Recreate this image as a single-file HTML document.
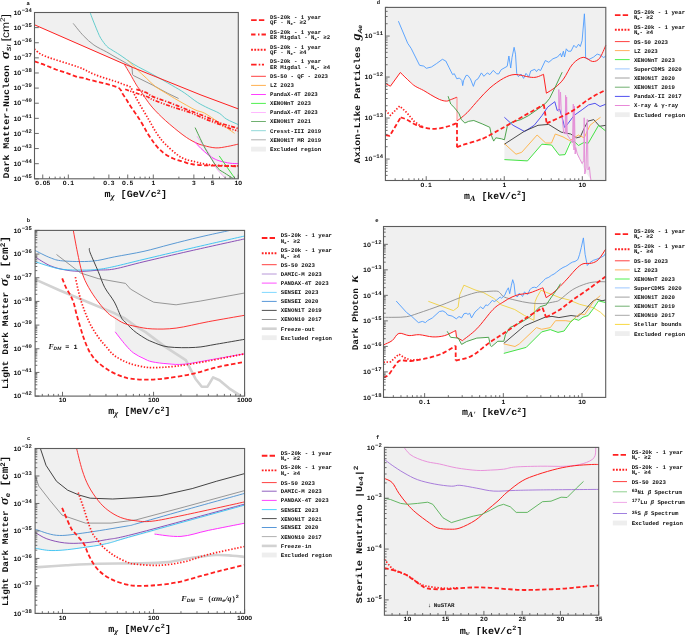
<!DOCTYPE html>
<html><head><meta charset="utf-8"><style>
html,body{margin:0;padding:0;background:#fff;}
svg{display:block;will-change:transform;}
text{font-family:"Liberation Mono";fill:#111;text-rendering:geometricPrecision;}
</style></head><body>
<svg width="685" height="635" viewBox="0 0 685 635">
<rect width="685" height="635" fill="#fff"/>
<polygon points="34.5,12.5 238.3,12.5 238.3,178.8 225.4,178.8 225.4,178.3 225.1,178.0 224.6,177.5 224.1,177.0 223.6,176.4 223.0,175.7 222.3,175.1 221.7,174.4 221.1,173.7 220.5,173.1 220.0,172.5 219.5,172.0 219.1,171.5 218.7,171.1 218.3,170.6 217.9,170.2 217.5,169.7 217.1,169.2 216.7,168.7 216.3,168.0 215.9,167.3 215.5,166.5 215.0,165.5 214.6,164.5 214.1,163.4 213.7,162.3 213.2,161.1 212.7,159.9 212.2,158.8 211.7,157.7 211.1,156.6 210.5,155.6 209.8,154.5 209.1,153.5 208.4,155.0 207.7,154.5 207.0,153.9 206.3,153.3 205.5,152.6 204.8,151.9 204.0,151.3 203.2,150.6 202.4,149.9 201.7,149.2 201.0,148.5 200.3,147.8 199.6,147.1 198.8,146.3 198.1,145.5 197.3,144.7 196.7,143.9 196.0,143.2 195.5,142.6 195.0,142.1 194.6,142.2 193.6,141.7 192.5,141.1 191.5,140.6 190.4,140.0 189.3,139.3 188.2,138.6 187.0,137.8 185.7,137.0 184.4,136.0 183.0,135.0 181.5,133.8 179.8,132.5 178.0,131.1 176.2,129.6 174.3,128.1 172.4,126.5 170.5,124.9 168.7,123.4 167.0,121.9 165.4,120.5 163.9,119.2 162.5,117.8 161.1,116.5 159.8,115.2 158.5,113.9 157.3,112.7 156.1,111.5 154.9,110.2 153.8,109.1 152.8,107.9 151.8,106.8 150.9,105.6 150.0,104.5 149.2,103.5 148.4,102.4 147.7,101.4 147.0,100.4 146.3,99.4 145.6,98.5 145.0,97.6 144.4,96.8 143.9,96.0 143.4,95.2 142.9,94.5 142.5,93.8 142.1,93.2 141.6,92.5 141.2,91.9 140.8,91.2 140.4,90.6 140.0,90.0 139.6,89.4 139.2,88.9 138.8,88.4 138.5,87.9 138.1,87.4 137.7,86.9 137.2,86.3 136.8,85.6 136.3,84.8 135.8,83.9 135.2,82.9 134.6,81.9 133.9,80.7 133.3,79.6 132.6,78.4 132.0,77.2 131.3,76.1 130.7,75.0 130.1,73.9 129.5,72.9 128.8,71.8 128.2,70.6 127.5,69.5 126.9,68.5 126.2,67.4 125.7,66.5 125.2,65.7 124.7,65.0 124.4,64.4 34.5,24.8" fill="#f0f0f0"/>
<text x="28.2" y="5.0" font-size="5.5" text-anchor="middle" font-weight="bold" font-family="Liberation Mono" >a</text>
<path d="M90.10,12.50 C90.50,13.58 91.68,16.88 92.50,19.00 C93.32,21.12 94.08,22.95 95.00,25.20 C95.92,27.45 97.02,30.28 98.00,32.50 C98.98,34.72 99.45,36.22 100.90,38.50 C102.35,40.78 104.85,44.28 106.70,46.20 C108.55,48.12 109.78,48.53 112.00,50.00 C114.22,51.47 116.35,52.60 120.00,55.00 C123.65,57.40 128.43,61.15 133.90,64.40 C139.37,67.65 146.50,71.03 152.80,74.50 C159.10,77.97 166.45,82.15 171.70,85.20 C176.95,88.25 180.03,89.95 184.30,92.80 C188.57,95.65 193.32,99.75 197.30,102.30 C201.28,104.85 204.55,106.28 208.20,108.10 C211.85,109.92 216.15,111.37 219.20,113.20 C222.25,115.03 223.32,117.20 226.50,119.10 C229.68,121.00 236.33,123.68 238.30,124.60" fill="none" stroke="#55c8c8" stroke-width="0.9" stroke-linecap="butt" stroke-linejoin="round"/>
<path d="M73.20,23.40 C74.90,25.45 79.95,32.10 83.40,35.70 C86.85,39.30 90.02,42.28 93.90,45.00 C97.78,47.72 103.18,50.02 106.70,52.00 C110.22,53.98 112.08,55.23 115.00,56.90 C117.92,58.57 121.37,60.32 124.20,62.00 C127.03,63.68 130.70,66.17 132.00,67.00" fill="none" stroke="#8a8a8a" stroke-width="0.9" stroke-linecap="butt" stroke-linejoin="round"/>
<polyline points="132.0,67.0 132.5,74.5 133.9,75.8 152.8,85.2 167.9,93.4 178.6,98.5" fill="none" stroke="#8a8a8a" stroke-width="0.9" stroke-linecap="butt" stroke-linejoin="round"/>
<path d="M127.60,60.00 C129.07,61.48 133.25,65.85 136.40,68.90 C139.55,71.95 143.35,75.37 146.50,78.30 C149.65,81.23 152.15,84.08 155.30,86.50 C158.45,88.92 161.62,90.48 165.40,92.80 C169.18,95.12 173.07,97.57 178.00,100.40 C182.93,103.23 190.57,107.67 195.00,109.80 C199.43,111.93 200.57,111.05 204.60,113.20 C208.63,115.35 214.22,119.35 219.20,122.70 C224.18,126.05 231.95,131.53 234.50,133.30" fill="none" stroke="#ffb040" stroke-width="0.9" stroke-linecap="butt" stroke-linejoin="round"/>
<polyline points="34.5,24.8 115.0,60.0 123.0,63.5 201.0,95.0 238.3,108.9" fill="none" stroke="#ff2020" stroke-width="1.0" stroke-linecap="butt" stroke-linejoin="round"/>
<path d="M124.40,64.40 C125.35,65.98 128.12,70.50 130.10,73.90 C132.08,77.30 134.58,82.02 136.30,84.80 C138.02,87.58 138.95,88.47 140.40,90.60 C141.85,92.73 142.93,94.72 145.00,97.60 C147.07,100.48 149.40,104.08 152.80,107.90 C156.20,111.72 160.37,115.98 165.40,120.50 C170.43,125.02 178.13,131.38 183.00,135.00 C187.87,138.62 191.17,140.45 194.60,142.20 C198.03,143.95 200.05,144.55 203.60,145.50 C207.15,146.45 211.95,147.73 215.90,147.90 C219.85,148.07 223.57,147.13 227.30,146.50 C231.03,145.87 236.47,144.50 238.30,144.10" fill="none" stroke="#ff2020" stroke-width="0.9" stroke-linecap="butt" stroke-linejoin="round"/>
<path d="M194.60,141.70 C195.67,142.83 198.70,146.28 201.00,148.50 C203.30,150.72 206.23,153.32 208.40,155.00 C210.57,156.68 212.08,157.60 214.00,158.60 C215.92,159.60 217.23,160.23 219.90,161.00 C222.57,161.77 226.93,162.77 230.00,163.20 C233.07,163.63 236.92,163.53 238.30,163.60" fill="none" stroke="#ff30ff" stroke-width="1.0" stroke-linecap="butt" stroke-linejoin="round"/>
<path d="M197.10,136.40 C198.25,138.08 201.67,143.13 204.00,146.50 C206.33,149.87 209.12,153.13 211.10,156.60 C213.08,160.07 214.42,164.65 215.90,167.30 C217.38,169.95 218.42,170.67 220.00,172.50 C221.58,174.33 224.50,177.33 225.40,178.30" fill="none" stroke="#f0a0f0" stroke-width="0.9" stroke-linecap="butt" stroke-linejoin="round"/>
<path d="M195.10,127.60 C196.52,130.58 201.08,140.62 203.60,145.50 C206.12,150.38 207.83,153.12 210.20,156.90 C212.57,160.68 215.43,165.53 217.80,168.20 C220.17,170.87 221.88,171.22 224.40,172.90 C226.92,174.58 231.48,177.40 232.90,178.30" fill="none" stroke="#3c9a3c" stroke-width="0.9" stroke-linecap="butt" stroke-linejoin="round"/>
<polyline points="219.2,155.9 234.8,178.3" fill="none" stroke="#30e030" stroke-width="0.9" stroke-linecap="butt" stroke-linejoin="round"/>
<path d="M136.30,89.40 C136.98,89.55 139.23,89.93 140.40,90.30 C141.57,90.67 142.13,91.12 143.30,91.60 C144.47,92.08 145.82,92.37 147.40,93.20 C148.98,94.03 148.75,94.88 152.80,96.60 C156.85,98.32 165.50,101.15 171.70,103.50 C177.90,105.85 184.52,108.58 190.00,110.70 C195.48,112.82 199.73,114.20 204.60,116.20 C209.47,118.20 214.33,120.88 219.20,122.70 C224.07,124.52 230.62,126.12 233.80,127.10 C236.98,128.08 237.55,128.35 238.30,128.60" fill="none" stroke="#ff2020" stroke-width="1.7" stroke-dasharray="4,1.6,1.3,1.6" stroke-linecap="butt" stroke-linejoin="round"/>
<path d="M125.20,89.40 C125.78,89.60 126.67,89.92 128.70,90.60 C130.73,91.28 135.07,92.72 137.40,93.50 C139.73,94.28 140.93,94.72 142.70,95.30 C144.47,95.88 146.32,96.27 148.00,97.00 C149.68,97.73 148.85,98.08 152.80,99.70 C156.75,101.32 165.50,104.57 171.70,106.70 C177.90,108.83 185.37,110.87 190.00,112.50 C194.63,114.13 196.33,115.17 199.50,116.50 C202.67,117.83 205.72,119.22 209.00,120.50 C212.28,121.78 215.68,122.85 219.20,124.20 C222.72,125.55 226.92,127.45 230.10,128.60 C233.28,129.75 236.93,130.68 238.30,131.10" fill="none" stroke="#ff2020" stroke-width="1.7" stroke-dasharray="4,1.5,1.2,1.5,1.2,1.5" stroke-linecap="butt" stroke-linejoin="round"/>
<path d="M34.50,49.30 C36.32,50.47 38.12,53.35 45.40,56.30 C52.68,59.25 70.10,64.00 78.20,67.00 C86.30,70.00 88.50,72.12 94.00,74.30 C99.50,76.48 107.27,78.80 111.20,80.10 C115.13,81.40 115.52,81.37 117.60,82.10 C119.68,82.83 121.70,83.77 123.70,84.50 C125.70,85.23 128.28,85.78 129.60,86.50 C130.92,87.22 130.78,87.43 131.60,88.80 C132.42,90.17 133.23,92.27 134.50,94.70 C135.77,97.13 136.98,99.52 139.20,103.40 C141.42,107.28 144.90,113.05 147.80,118.00 C150.70,122.95 153.65,128.72 156.60,133.10 C159.55,137.48 161.38,140.25 165.50,144.30 C169.62,148.35 176.33,154.48 181.30,157.40 C186.27,160.32 191.35,160.70 195.30,161.80 C199.25,162.90 201.72,163.43 205.00,164.00 C208.28,164.57 209.45,164.87 215.00,165.20 C220.55,165.53 234.42,165.87 238.30,166.00" fill="none" stroke="#ff2020" stroke-width="1.7" stroke-dasharray="1.4,1.7" stroke-linecap="butt" stroke-linejoin="round"/>
<polyline points="34.5,61.3 42.8,64.2 55.9,69.5 69.0,73.8 77.8,77.3 83.9,77.8 88.3,79.5 110.0,84.8 118.8,87.7" fill="none" stroke="#ff2020" stroke-width="1.8" stroke-dasharray="4.4,2.4" stroke-linecap="butt" stroke-linejoin="round"/>
<path d="M118.80,87.70 C119.18,88.18 120.43,89.53 121.10,90.60 C121.77,91.67 121.92,92.63 122.80,94.10 C123.68,95.57 125.22,97.55 126.40,99.40 C127.58,101.25 127.60,101.68 129.90,105.20 C132.20,108.72 137.22,115.75 140.20,120.50 C143.18,125.25 145.33,129.73 147.80,133.70 C150.27,137.67 152.47,141.17 155.00,144.30 C157.53,147.43 160.07,150.17 163.00,152.50 C165.93,154.83 169.27,156.78 172.60,158.30 C175.93,159.82 179.50,160.57 183.00,161.60 C186.50,162.63 188.33,163.82 193.60,164.50 C198.87,165.18 207.15,165.40 214.60,165.70 C222.05,166.00 234.35,166.20 238.30,166.30" fill="none" stroke="#ff2020" stroke-width="1.8" stroke-dasharray="4.4,2.4" stroke-linecap="butt" stroke-linejoin="round"/>
<rect x="34.50" y="12.50" width="203.80" height="166.30" fill="none" stroke="#5c5c5c" stroke-width="1.1"/>
<line x1="34.50" y1="12.50" x2="38.80" y2="12.50" stroke="#5c5c5c" stroke-width="0.9"/>
<text x="31.8" y="14.7" font-size="6.6" text-anchor="end" font-family="Liberation Mono" font-weight="bold">1O<tspan font-size="5.6" dy="-3" dx="0.4">&#8722;34</tspan></text>
<line x1="34.50" y1="27.62" x2="38.80" y2="27.62" stroke="#5c5c5c" stroke-width="0.9"/>
<text x="31.8" y="29.8" font-size="6.6" text-anchor="end" font-family="Liberation Mono" font-weight="bold">1O<tspan font-size="5.6" dy="-3" dx="0.4">&#8722;35</tspan></text>
<line x1="34.50" y1="42.74" x2="38.80" y2="42.74" stroke="#5c5c5c" stroke-width="0.9"/>
<text x="31.8" y="44.9" font-size="6.6" text-anchor="end" font-family="Liberation Mono" font-weight="bold">1O<tspan font-size="5.6" dy="-3" dx="0.4">&#8722;36</tspan></text>
<line x1="34.50" y1="57.85" x2="38.80" y2="57.85" stroke="#5c5c5c" stroke-width="0.9"/>
<text x="31.8" y="60.1" font-size="6.6" text-anchor="end" font-family="Liberation Mono" font-weight="bold">1O<tspan font-size="5.6" dy="-3" dx="0.4">&#8722;37</tspan></text>
<line x1="34.50" y1="72.97" x2="38.80" y2="72.97" stroke="#5c5c5c" stroke-width="0.9"/>
<text x="31.8" y="75.2" font-size="6.6" text-anchor="end" font-family="Liberation Mono" font-weight="bold">1O<tspan font-size="5.6" dy="-3" dx="0.4">&#8722;38</tspan></text>
<line x1="34.50" y1="88.09" x2="38.80" y2="88.09" stroke="#5c5c5c" stroke-width="0.9"/>
<text x="31.8" y="90.3" font-size="6.6" text-anchor="end" font-family="Liberation Mono" font-weight="bold">1O<tspan font-size="5.6" dy="-3" dx="0.4">&#8722;39</tspan></text>
<line x1="34.50" y1="103.21" x2="38.80" y2="103.21" stroke="#5c5c5c" stroke-width="0.9"/>
<text x="31.8" y="105.4" font-size="6.6" text-anchor="end" font-family="Liberation Mono" font-weight="bold">1O<tspan font-size="5.6" dy="-3" dx="0.4">&#8722;40</tspan></text>
<line x1="34.50" y1="118.33" x2="38.80" y2="118.33" stroke="#5c5c5c" stroke-width="0.9"/>
<text x="31.8" y="120.5" font-size="6.6" text-anchor="end" font-family="Liberation Mono" font-weight="bold">1O<tspan font-size="5.6" dy="-3" dx="0.4">&#8722;41</tspan></text>
<line x1="34.50" y1="133.45" x2="38.80" y2="133.45" stroke="#5c5c5c" stroke-width="0.9"/>
<text x="31.8" y="135.6" font-size="6.6" text-anchor="end" font-family="Liberation Mono" font-weight="bold">1O<tspan font-size="5.6" dy="-3" dx="0.4">&#8722;42</tspan></text>
<line x1="34.50" y1="148.56" x2="38.80" y2="148.56" stroke="#5c5c5c" stroke-width="0.9"/>
<text x="31.8" y="150.8" font-size="6.6" text-anchor="end" font-family="Liberation Mono" font-weight="bold">1O<tspan font-size="5.6" dy="-3" dx="0.4">&#8722;43</tspan></text>
<line x1="34.50" y1="163.68" x2="38.80" y2="163.68" stroke="#5c5c5c" stroke-width="0.9"/>
<text x="31.8" y="165.9" font-size="6.6" text-anchor="end" font-family="Liberation Mono" font-weight="bold">1O<tspan font-size="5.6" dy="-3" dx="0.4">&#8722;44</tspan></text>
<line x1="34.50" y1="178.80" x2="38.80" y2="178.80" stroke="#5c5c5c" stroke-width="0.9"/>
<text x="31.8" y="181.0" font-size="6.6" text-anchor="end" font-family="Liberation Mono" font-weight="bold">1O<tspan font-size="5.6" dy="-3" dx="0.4">&#8722;45</tspan></text>
<line x1="42.74" y1="178.80" x2="42.74" y2="174.50" stroke="#5c5c5c" stroke-width="0.9"/>
<line x1="68.32" y1="178.80" x2="68.32" y2="174.50" stroke="#5c5c5c" stroke-width="0.9"/>
<line x1="108.87" y1="178.80" x2="108.87" y2="174.50" stroke="#5c5c5c" stroke-width="0.9"/>
<line x1="127.73" y1="178.80" x2="127.73" y2="174.50" stroke="#5c5c5c" stroke-width="0.9"/>
<line x1="153.31" y1="178.80" x2="153.31" y2="174.50" stroke="#5c5c5c" stroke-width="0.9"/>
<line x1="193.86" y1="178.80" x2="193.86" y2="174.50" stroke="#5c5c5c" stroke-width="0.9"/>
<line x1="212.72" y1="178.80" x2="212.72" y2="174.50" stroke="#5c5c5c" stroke-width="0.9"/>
<line x1="238.30" y1="178.80" x2="238.30" y2="174.50" stroke="#5c5c5c" stroke-width="0.9"/>
<line x1="49.47" y1="178.80" x2="49.47" y2="176.60" stroke="#5c5c5c" stroke-width="0.9"/>
<line x1="55.16" y1="178.80" x2="55.16" y2="176.60" stroke="#5c5c5c" stroke-width="0.9"/>
<line x1="60.08" y1="178.80" x2="60.08" y2="176.60" stroke="#5c5c5c" stroke-width="0.9"/>
<line x1="64.43" y1="178.80" x2="64.43" y2="176.60" stroke="#5c5c5c" stroke-width="0.9"/>
<line x1="93.91" y1="178.80" x2="93.91" y2="176.60" stroke="#5c5c5c" stroke-width="0.9"/>
<line x1="119.49" y1="178.80" x2="119.49" y2="176.60" stroke="#5c5c5c" stroke-width="0.9"/>
<line x1="134.46" y1="178.80" x2="134.46" y2="176.60" stroke="#5c5c5c" stroke-width="0.9"/>
<line x1="140.15" y1="178.80" x2="140.15" y2="176.60" stroke="#5c5c5c" stroke-width="0.9"/>
<line x1="145.07" y1="178.80" x2="145.07" y2="176.60" stroke="#5c5c5c" stroke-width="0.9"/>
<line x1="149.42" y1="178.80" x2="149.42" y2="176.60" stroke="#5c5c5c" stroke-width="0.9"/>
<line x1="178.89" y1="178.80" x2="178.89" y2="176.60" stroke="#5c5c5c" stroke-width="0.9"/>
<line x1="204.48" y1="178.80" x2="204.48" y2="176.60" stroke="#5c5c5c" stroke-width="0.9"/>
<line x1="219.45" y1="178.80" x2="219.45" y2="176.60" stroke="#5c5c5c" stroke-width="0.9"/>
<line x1="225.13" y1="178.80" x2="225.13" y2="176.60" stroke="#5c5c5c" stroke-width="0.9"/>
<line x1="230.06" y1="178.80" x2="230.06" y2="176.60" stroke="#5c5c5c" stroke-width="0.9"/>
<line x1="234.41" y1="178.80" x2="234.41" y2="176.60" stroke="#5c5c5c" stroke-width="0.9"/>
<text x="42.7" y="184.9" font-size="6.3" text-anchor="middle" font-family="Liberation Mono" font-weight="bold">O.O5</text>
<text x="68.3" y="184.9" font-size="6.3" text-anchor="middle" font-family="Liberation Mono" font-weight="bold">O.1</text>
<text x="108.9" y="184.9" font-size="6.3" text-anchor="middle" font-family="Liberation Mono" font-weight="bold">O.3</text>
<text x="127.7" y="184.9" font-size="6.3" text-anchor="middle" font-family="Liberation Mono" font-weight="bold">O.5</text>
<text x="153.3" y="184.9" font-size="6.3" text-anchor="middle" font-family="Liberation Mono" font-weight="bold">1</text>
<text x="193.9" y="184.9" font-size="6.3" text-anchor="middle" font-family="Liberation Mono" font-weight="bold">3</text>
<text x="212.7" y="184.9" font-size="6.3" text-anchor="middle" font-family="Liberation Mono" font-weight="bold">5</text>
<text x="238.3" y="184.9" font-size="6.3" text-anchor="middle" font-family="Liberation Mono" font-weight="bold">1O</text>
<polygon points="385.4,7.4 605.8,7.4 605.8,180.5 591.0,180.5 584.2,169.6 580.3,160.0 574.6,149.4 569.0,141.5 565.0,154.6 559.2,155.1 551.5,145.0 541.9,144.2 527.5,160.9 504.4,159.6 504.4,139.8 501.5,138.8 495.8,137.8 491.0,139.8 490.0,127.3 482.2,123.9 473.8,120.5 468.7,121.3 464.9,123.0 461.9,120.5 460.0,117.0 457.2,121.3 457.2,110.0 456.8,110.3 450.9,104.4 450.0,101.0 448.4,101.0 443.3,100.5 433.1,96.8 423.0,90.0 416.2,86.4 411.1,82.2 406.0,76.3 400.1,72.4 390.4,85.6 385.4,83.1" fill="#f0f0f0"/>
<text x="378.5" y="4.4" font-size="5.5" text-anchor="middle" font-weight="bold" font-family="Liberation Mono" >d</text>
<polyline points="398.4,21.2 407.7,43.3 411.1,48.3 419.6,65.3 423.8,66.1 426.3,68.3 431.4,67.0 436.5,63.6 442.4,59.3 445.8,61.0 449.2,67.8 452.6,74.6 454.3,73.7 456.8,78.8 459.4,78.0 461.9,80.5 462.7,85.6 463.6,80.5 466.1,75.4 467.8,75.4 470.4,78.8 473.4,86.4 475.4,80.5 478.0,78.8 481.4,72.9 483.9,76.3 487.3,72.9 489.8,74.6 493.2,70.4 496.6,73.7 498.6,74.0 501.2,69.7 507.2,66.3 508.9,56.0 510.7,68.0 512.0,57.7 514.1,47.3 515.5,54.2 516.7,73.2 518.4,76.6 521.0,74.0 523.6,78.4 526.0,73.4 528.9,76.9 530.7,71.0 534.8,69.3 536.5,71.6 538.3,69.3 540.6,70.5 545.3,60.5 548.8,62.3 552.9,58.8 557.5,57.0 560.5,53.5 561.6,57.0 563.4,51.2 564.5,57.0 566.3,48.8 568.0,51.2 571.0,51.2 573.9,45.3 576.2,47.7 578.6,44.2 580.3,46.5 582.1,40.7 583.0,30.0 584.4,13.8 585.2,30.0 585.6,58.2 589.1,59.4 593.7,57.0 597.2,54.1 600.7,55.3 603.7,57.6 605.8,55.9" fill="none" stroke="#4d9cff" stroke-width="0.9" stroke-linecap="butt" stroke-linejoin="round"/>
<polyline points="385.4,83.4 390.4,86.2 400.3,72.5" fill="none" stroke="#ff2020" stroke-width="1.0" stroke-linecap="butt" stroke-linejoin="round"/>
<path d="M400.30,72.50 C401.95,74.08 407.72,79.72 410.20,82.00 C412.68,84.28 412.95,84.78 415.20,86.20 C417.45,87.62 421.10,89.07 423.70,90.50 C426.30,91.93 428.20,93.32 430.80,94.80 C433.40,96.28 436.70,98.35 439.30,99.40 C441.90,100.45 444.38,101.10 446.40,101.10 C448.42,101.10 449.63,100.05 451.40,99.40 C453.17,98.75 456.07,97.57 457.00,97.20" fill="none" stroke="#ff2020" stroke-width="1.0" stroke-linecap="butt" stroke-linejoin="round"/>
<polyline points="457.0,97.2 457.0,121.0" fill="none" stroke="#ff8080" stroke-width="0.9" stroke-linecap="butt" stroke-linejoin="round"/>
<path d="M457.00,121.00 C458.07,120.17 461.45,117.67 463.40,116.00 C465.35,114.33 466.13,113.75 468.70,111.00 C471.27,108.25 475.25,103.35 478.80,99.50 C482.35,95.65 485.88,91.43 490.00,87.90 C494.12,84.37 499.33,80.53 503.50,78.30 C507.67,76.07 510.67,74.70 515.00,74.50 C519.33,74.30 525.92,76.67 529.50,77.10 C533.08,77.53 534.17,77.57 536.50,77.10 C538.83,76.63 542.33,74.77 543.50,74.30" fill="none" stroke="#ff2020" stroke-width="1.0" stroke-linecap="butt" stroke-linejoin="round"/>
<polyline points="543.5,74.3 546.4,93.2" fill="none" stroke="#ff2020" stroke-width="1.0" stroke-linecap="butt" stroke-linejoin="round"/>
<path d="M546.40,93.20 C547.87,92.23 552.37,89.73 555.20,87.40 C558.03,85.07 560.48,83.10 563.40,79.20 C566.32,75.30 569.40,67.65 572.70,64.00 C576.00,60.35 579.88,57.72 583.20,57.30 C586.52,56.88 589.87,61.35 592.60,61.50 C595.33,61.65 597.40,60.90 599.60,58.20 C601.80,55.50 604.77,47.45 605.80,45.30" fill="none" stroke="#ff2020" stroke-width="1.0" stroke-linecap="butt" stroke-linejoin="round"/>
<polyline points="448.1,96.2 450.7,104.0 454.9,108.2 459.2,113.9 461.3,119.6 464.9,123.0 468.7,121.3 473.8,120.5 482.2,123.9 489.8,127.3 491.5,135.7 493.7,141.1 495.8,137.8 501.5,138.8 504.4,139.8 507.3,126.3 511.1,122.5 520.8,119.6 528.4,115.7 538.0,109.0 545.7,103.2 549.6,98.4 555.3,86.9 562.2,72.2" fill="none" stroke="#3c9a3c" stroke-width="0.9" stroke-linecap="butt" stroke-linejoin="round"/>
<polyline points="504.4,117.3 513.1,125.3 524.6,131.5 534.2,125.3 541.9,115.7 547.7,107.1 554.8,101.7 557.2,110.5 559.6,108.9 562.9,120.2 564.5,127.4 566.9,125.0 574.1,115.4 582.2,109.7 588.6,104.9 595.0,103.3 600.0,106.5 605.8,104.2" fill="none" stroke="#4040ee" stroke-width="0.9" stroke-linecap="butt" stroke-linejoin="round"/>
<polyline points="504.4,144.2 524.6,131.1 538.0,125.3 548.6,124.4 561.1,132.1 570.7,134.0 576.5,137.8 580.3,136.9 584.2,128.2 588.0,121.1 593.8,119.6 599.6,126.3 605.8,125.3" fill="none" stroke="#3a3a3a" stroke-width="0.9" stroke-linecap="butt" stroke-linejoin="round"/>
<polyline points="504.4,143.6 516.0,154.2 521.7,152.3 537.1,135.0 545.7,143.0 551.5,143.0 555.3,134.0 563.0,136.9 569.8,140.7 578.4,135.0 584.2,137.8 590.0,125.3 594.7,121.5 600.5,117.3" fill="none" stroke="#ffb040" stroke-width="0.9" stroke-linecap="butt" stroke-linejoin="round"/>
<polyline points="504.4,159.6 527.5,160.9 541.9,144.2 551.5,145.0 559.2,155.1 565.0,154.6 570.7,141.7 574.6,141.7 578.4,145.5 584.2,142.3 588.0,143.6 598.6,125.3 605.8,131.1" fill="none" stroke="#30e030" stroke-width="0.9" stroke-linecap="butt" stroke-linejoin="round"/>
<polyline points="558.8,112.0 558.8,89.6 559.6,108.9 560.5,92.0 561.3,112.2 562.1,117.0 563.7,133.0 565.2,134.0 565.6,95.3 566.1,134.0 566.6,97.0 567.2,134.7 569.3,137.9 572.5,142.7 573.3,104.1 574.0,150.0 574.4,106.0 575.2,154.0 575.7,147.5 577.3,154.0 579.7,158.8 582.2,163.6 583.8,160.4 584.2,117.8 584.8,174.0 586.0,168.0 587.3,119.4 588.0,170.0 589.4,166.8 590.3,176.0 591.0,180.5" fill="none" stroke="#e590d8" stroke-width="1.0" stroke-linecap="butt" stroke-linejoin="round"/>
<polyline points="385.4,110.4 390.4,115.3 399.6,106.1 406.7,112.5 413.8,121.0 419.5,125.2 424.0,127.2" fill="none" stroke="#ff2020" stroke-width="1.7" stroke-dasharray="1.4,1.7" stroke-linecap="butt" stroke-linejoin="round"/>
<polyline points="385.4,135.2 389.7,135.9 400.7,117.4" fill="none" stroke="#ff2020" stroke-width="1.8" stroke-dasharray="4.4,2.4" stroke-linecap="butt" stroke-linejoin="round"/>
<path d="M400.70,117.40 C401.70,117.77 404.28,118.42 406.70,119.60 C409.12,120.78 412.37,123.20 415.20,124.50 C418.03,125.80 420.87,126.68 423.70,127.40 C426.53,128.12 429.37,128.68 432.20,128.80 C435.03,128.92 437.87,128.57 440.70,128.10 C443.53,127.63 446.48,126.83 449.20,126.00 C451.92,125.17 455.70,123.58 457.00,123.10" fill="none" stroke="#ff2020" stroke-width="1.8" stroke-dasharray="4.4,2.4" stroke-linecap="butt" stroke-linejoin="round"/>
<polyline points="457.0,123.1 457.0,147.2" fill="none" stroke="#ff2020" stroke-width="1.8" stroke-dasharray="4.4,2.4" stroke-linecap="butt" stroke-linejoin="round"/>
<path d="M457.00,147.20 C458.38,146.70 461.67,145.40 465.30,144.20 C468.93,143.00 474.68,141.53 478.80,140.00 C482.92,138.47 479.17,140.90 490.00,135.00 C500.83,129.10 534.83,109.67 543.80,104.60" fill="none" stroke="#ff2020" stroke-width="1.8" stroke-dasharray="4.4,2.4" stroke-linecap="butt" stroke-linejoin="round"/>
<polyline points="543.8,104.6 546.7,123.4" fill="none" stroke="#ff2020" stroke-width="1.8" stroke-dasharray="4.4,2.4" stroke-linecap="butt" stroke-linejoin="round"/>
<path d="M546.70,123.40 C550.70,121.48 563.48,116.07 570.70,111.90 C577.92,107.73 584.15,102.08 590.00,98.40 C595.85,94.72 603.17,91.23 605.80,89.80" fill="none" stroke="#ff2020" stroke-width="1.8" stroke-dasharray="4.4,2.4" stroke-linecap="butt" stroke-linejoin="round"/>
<rect x="385.40" y="7.40" width="220.40" height="173.10" fill="none" stroke="#5c5c5c" stroke-width="1.1"/>
<line x1="385.40" y1="36.06" x2="389.70" y2="36.06" stroke="#5c5c5c" stroke-width="0.9"/>
<text x="383.0" y="38.3" font-size="6.6" text-anchor="end" font-family="Liberation Mono" font-weight="bold">1O<tspan font-size="5.6" dy="-3" dx="0.4">&#8722;11</tspan></text>
<line x1="385.40" y1="77.06" x2="389.70" y2="77.06" stroke="#5c5c5c" stroke-width="0.9"/>
<text x="383.0" y="79.3" font-size="6.6" text-anchor="end" font-family="Liberation Mono" font-weight="bold">1O<tspan font-size="5.6" dy="-3" dx="0.4">&#8722;12</tspan></text>
<line x1="385.40" y1="118.06" x2="389.70" y2="118.06" stroke="#5c5c5c" stroke-width="0.9"/>
<text x="383.0" y="120.3" font-size="6.6" text-anchor="end" font-family="Liberation Mono" font-weight="bold">1O<tspan font-size="5.6" dy="-3" dx="0.4">&#8722;13</tspan></text>
<line x1="385.40" y1="159.06" x2="389.70" y2="159.06" stroke="#5c5c5c" stroke-width="0.9"/>
<text x="383.0" y="161.3" font-size="6.6" text-anchor="end" font-family="Liberation Mono" font-weight="bold">1O<tspan font-size="5.6" dy="-3" dx="0.4">&#8722;14</tspan></text>
<line x1="385.40" y1="180.50" x2="387.60" y2="180.50" stroke="#5c5c5c" stroke-width="0.9"/>
<line x1="385.40" y1="175.38" x2="387.60" y2="175.38" stroke="#5c5c5c" stroke-width="0.9"/>
<line x1="385.40" y1="171.40" x2="387.60" y2="171.40" stroke="#5c5c5c" stroke-width="0.9"/>
<line x1="385.40" y1="168.16" x2="387.60" y2="168.16" stroke="#5c5c5c" stroke-width="0.9"/>
<line x1="385.40" y1="165.41" x2="387.60" y2="165.41" stroke="#5c5c5c" stroke-width="0.9"/>
<line x1="385.40" y1="163.03" x2="387.60" y2="163.03" stroke="#5c5c5c" stroke-width="0.9"/>
<line x1="385.40" y1="160.94" x2="387.60" y2="160.94" stroke="#5c5c5c" stroke-width="0.9"/>
<line x1="385.40" y1="146.72" x2="387.60" y2="146.72" stroke="#5c5c5c" stroke-width="0.9"/>
<line x1="385.40" y1="139.50" x2="387.60" y2="139.50" stroke="#5c5c5c" stroke-width="0.9"/>
<line x1="385.40" y1="134.38" x2="387.60" y2="134.38" stroke="#5c5c5c" stroke-width="0.9"/>
<line x1="385.40" y1="130.40" x2="387.60" y2="130.40" stroke="#5c5c5c" stroke-width="0.9"/>
<line x1="385.40" y1="127.16" x2="387.60" y2="127.16" stroke="#5c5c5c" stroke-width="0.9"/>
<line x1="385.40" y1="124.41" x2="387.60" y2="124.41" stroke="#5c5c5c" stroke-width="0.9"/>
<line x1="385.40" y1="122.03" x2="387.60" y2="122.03" stroke="#5c5c5c" stroke-width="0.9"/>
<line x1="385.40" y1="119.94" x2="387.60" y2="119.94" stroke="#5c5c5c" stroke-width="0.9"/>
<line x1="385.40" y1="105.72" x2="387.60" y2="105.72" stroke="#5c5c5c" stroke-width="0.9"/>
<line x1="385.40" y1="98.50" x2="387.60" y2="98.50" stroke="#5c5c5c" stroke-width="0.9"/>
<line x1="385.40" y1="93.38" x2="387.60" y2="93.38" stroke="#5c5c5c" stroke-width="0.9"/>
<line x1="385.40" y1="89.40" x2="387.60" y2="89.40" stroke="#5c5c5c" stroke-width="0.9"/>
<line x1="385.40" y1="86.16" x2="387.60" y2="86.16" stroke="#5c5c5c" stroke-width="0.9"/>
<line x1="385.40" y1="83.41" x2="387.60" y2="83.41" stroke="#5c5c5c" stroke-width="0.9"/>
<line x1="385.40" y1="81.03" x2="387.60" y2="81.03" stroke="#5c5c5c" stroke-width="0.9"/>
<line x1="385.40" y1="78.94" x2="387.60" y2="78.94" stroke="#5c5c5c" stroke-width="0.9"/>
<line x1="385.40" y1="64.72" x2="387.60" y2="64.72" stroke="#5c5c5c" stroke-width="0.9"/>
<line x1="385.40" y1="57.50" x2="387.60" y2="57.50" stroke="#5c5c5c" stroke-width="0.9"/>
<line x1="385.40" y1="52.37" x2="387.60" y2="52.37" stroke="#5c5c5c" stroke-width="0.9"/>
<line x1="385.40" y1="48.40" x2="387.60" y2="48.40" stroke="#5c5c5c" stroke-width="0.9"/>
<line x1="385.40" y1="45.15" x2="387.60" y2="45.15" stroke="#5c5c5c" stroke-width="0.9"/>
<line x1="385.40" y1="42.41" x2="387.60" y2="42.41" stroke="#5c5c5c" stroke-width="0.9"/>
<line x1="385.40" y1="40.03" x2="387.60" y2="40.03" stroke="#5c5c5c" stroke-width="0.9"/>
<line x1="385.40" y1="37.93" x2="387.60" y2="37.93" stroke="#5c5c5c" stroke-width="0.9"/>
<line x1="385.40" y1="23.72" x2="387.60" y2="23.72" stroke="#5c5c5c" stroke-width="0.9"/>
<line x1="385.40" y1="16.50" x2="387.60" y2="16.50" stroke="#5c5c5c" stroke-width="0.9"/>
<line x1="385.40" y1="11.37" x2="387.60" y2="11.37" stroke="#5c5c5c" stroke-width="0.9"/>
<line x1="385.40" y1="7.40" x2="387.60" y2="7.40" stroke="#5c5c5c" stroke-width="0.9"/>
<line x1="426.21" y1="180.50" x2="426.21" y2="176.20" stroke="#5c5c5c" stroke-width="0.9"/>
<line x1="504.26" y1="180.50" x2="504.26" y2="176.20" stroke="#5c5c5c" stroke-width="0.9"/>
<line x1="582.31" y1="180.50" x2="582.31" y2="176.20" stroke="#5c5c5c" stroke-width="0.9"/>
<line x1="395.15" y1="180.50" x2="395.15" y2="178.30" stroke="#5c5c5c" stroke-width="0.9"/>
<line x1="402.71" y1="180.50" x2="402.71" y2="178.30" stroke="#5c5c5c" stroke-width="0.9"/>
<line x1="408.89" y1="180.50" x2="408.89" y2="178.30" stroke="#5c5c5c" stroke-width="0.9"/>
<line x1="414.12" y1="180.50" x2="414.12" y2="178.30" stroke="#5c5c5c" stroke-width="0.9"/>
<line x1="418.65" y1="180.50" x2="418.65" y2="178.30" stroke="#5c5c5c" stroke-width="0.9"/>
<line x1="422.64" y1="180.50" x2="422.64" y2="178.30" stroke="#5c5c5c" stroke-width="0.9"/>
<line x1="449.70" y1="180.50" x2="449.70" y2="178.30" stroke="#5c5c5c" stroke-width="0.9"/>
<line x1="463.45" y1="180.50" x2="463.45" y2="178.30" stroke="#5c5c5c" stroke-width="0.9"/>
<line x1="473.20" y1="180.50" x2="473.20" y2="178.30" stroke="#5c5c5c" stroke-width="0.9"/>
<line x1="480.76" y1="180.50" x2="480.76" y2="178.30" stroke="#5c5c5c" stroke-width="0.9"/>
<line x1="486.94" y1="180.50" x2="486.94" y2="178.30" stroke="#5c5c5c" stroke-width="0.9"/>
<line x1="492.17" y1="180.50" x2="492.17" y2="178.30" stroke="#5c5c5c" stroke-width="0.9"/>
<line x1="496.69" y1="180.50" x2="496.69" y2="178.30" stroke="#5c5c5c" stroke-width="0.9"/>
<line x1="500.69" y1="180.50" x2="500.69" y2="178.30" stroke="#5c5c5c" stroke-width="0.9"/>
<line x1="527.75" y1="180.50" x2="527.75" y2="178.30" stroke="#5c5c5c" stroke-width="0.9"/>
<line x1="541.50" y1="180.50" x2="541.50" y2="178.30" stroke="#5c5c5c" stroke-width="0.9"/>
<line x1="551.25" y1="180.50" x2="551.25" y2="178.30" stroke="#5c5c5c" stroke-width="0.9"/>
<line x1="558.81" y1="180.50" x2="558.81" y2="178.30" stroke="#5c5c5c" stroke-width="0.9"/>
<line x1="564.99" y1="180.50" x2="564.99" y2="178.30" stroke="#5c5c5c" stroke-width="0.9"/>
<line x1="570.22" y1="180.50" x2="570.22" y2="178.30" stroke="#5c5c5c" stroke-width="0.9"/>
<line x1="574.74" y1="180.50" x2="574.74" y2="178.30" stroke="#5c5c5c" stroke-width="0.9"/>
<line x1="578.73" y1="180.50" x2="578.73" y2="178.30" stroke="#5c5c5c" stroke-width="0.9"/>
<text x="426.2" y="186.6" font-size="6.3" text-anchor="middle" font-family="Liberation Mono" font-weight="bold">O.1</text>
<text x="504.3" y="186.6" font-size="6.3" text-anchor="middle" font-family="Liberation Mono" font-weight="bold">1</text>
<text x="582.3" y="186.6" font-size="6.3" text-anchor="middle" font-family="Liberation Mono" font-weight="bold">1O</text>
<polygon points="35.1,230.4 244.6,230.4 244.6,353.8 208.3,360.2 184.2,364.2 152.1,361.8 136.0,353.8 133.6,353.0 125.5,344.9 115.1,331.8 115.1,320.8 114.3,317.1 107.9,313.1 98.2,301.9 88.6,287.4 82.2,273.0 80.0,270.0 62.9,269.4 50.1,266.5 35.1,261.7" fill="#f0f0f0"/>
<text x="28.5" y="221.6" font-size="5.5" text-anchor="middle" font-weight="bold" font-family="Liberation Mono" >b</text>
<polyline points="35.1,279.4 60.0,290.5 90.0,303.0 114.3,313.1 125.0,318.5 136.0,326.5 145.6,332.1 164.9,346.6 185.8,360.2 195.4,378.7 201.8,386.7 207.5,386.7 213.1,377.4 219.5,380.3 229.1,388.3 238.8,394.7 241.0,396.0" fill="none" stroke="#d2d2d2" stroke-width="2.6" stroke-linecap="butt" stroke-linejoin="round"/>
<path d="M35.10,250.50 C37.60,251.70 45.47,255.97 50.10,257.70 C54.73,259.43 55.95,260.32 62.90,260.90 C69.85,261.48 83.23,261.87 91.80,261.20 C100.37,260.53 105.60,258.55 114.30,256.90 C123.00,255.25 134.72,253.37 144.00,251.30 C153.28,249.23 160.67,246.88 170.00,244.50 C179.33,242.12 190.00,239.35 200.00,237.00 C210.00,234.65 225.00,231.50 230.00,230.40" fill="none" stroke="#4a90d0" stroke-width="0.9" stroke-linecap="butt" stroke-linejoin="round"/>
<path d="M35.10,256.90 C37.60,258.37 44.93,263.50 50.10,265.70 C55.27,267.90 60.75,269.15 66.10,270.10 C71.45,271.05 76.85,271.40 82.20,271.40 C87.55,271.40 92.85,270.50 98.20,270.10 C103.55,269.70 106.67,270.40 114.30,269.00 C121.93,267.60 131.38,264.70 144.00,261.70 C156.62,258.70 173.23,254.80 190.00,251.00 C206.77,247.20 235.50,240.92 244.60,238.90" fill="none" stroke="#8040b0" stroke-width="0.9" stroke-linecap="butt" stroke-linejoin="round"/>
<path d="M35.10,261.70 C37.60,262.50 45.47,265.22 50.10,266.50 C54.73,267.78 57.55,268.80 62.90,269.40 C68.25,270.00 76.32,270.10 82.20,270.10 C88.08,270.10 92.85,270.00 98.20,269.40 C103.55,268.80 106.67,268.18 114.30,266.50 C121.93,264.82 131.38,262.30 144.00,259.30 C156.62,256.30 173.23,252.38 190.00,248.50 C206.77,244.62 235.50,238.08 244.60,236.00" fill="none" stroke="#33c0f0" stroke-width="0.9" stroke-linecap="butt" stroke-linejoin="round"/>
<polyline points="56.5,254.5 80.6,273.0 98.2,278.6 125.5,283.4 130.4,289.0 144.0,297.1 153.7,302.2 176.1,304.8 200.2,301.1 244.6,293.0" fill="none" stroke="#808080" stroke-width="0.8" stroke-linecap="butt" stroke-linejoin="round"/>
<path d="M89.40,248.10 C89.53,248.90 88.73,249.02 90.20,252.90 C91.67,256.78 95.78,265.65 98.20,271.40 C100.62,277.15 102.02,282.32 104.70,287.40 C107.38,292.48 111.50,296.82 114.30,301.90 C117.10,306.98 119.88,314.75 121.50,317.90 C123.12,321.05 121.98,318.70 124.00,320.80 C126.02,322.90 130.27,327.68 133.60,330.50 C136.93,333.32 140.92,335.82 144.00,337.70 C147.08,339.58 148.08,340.27 152.10,341.80 C156.12,343.33 160.88,345.97 168.10,346.90 C175.32,347.83 187.37,347.85 195.40,347.40 C203.43,346.95 208.10,345.55 216.30,344.20 C224.50,342.85 239.88,340.12 244.60,339.30" fill="none" stroke="#303030" stroke-width="0.9" stroke-linecap="butt" stroke-linejoin="round"/>
<path d="M73.30,230.40 C73.98,234.02 75.92,245.00 77.40,252.10 C78.88,259.20 80.33,267.12 82.20,273.00 C84.07,278.88 85.93,282.58 88.60,287.40 C91.27,292.22 94.98,297.62 98.20,301.90 C101.42,306.18 105.22,310.48 107.90,313.10 C110.58,315.72 111.62,315.90 114.30,317.60 C116.98,319.30 120.38,321.82 124.00,323.30 C127.62,324.78 131.32,325.57 136.00,326.50 C140.68,327.43 145.42,328.63 152.10,328.90 C158.78,329.17 166.73,329.30 176.10,328.10 C185.47,326.90 196.88,323.83 208.30,321.70 C219.72,319.57 238.55,316.37 244.60,315.30" fill="none" stroke="#ff2020" stroke-width="0.9" stroke-linecap="butt" stroke-linejoin="round"/>
<path d="M115.10,331.80 C116.83,333.98 122.42,341.37 125.50,344.90 C128.58,348.43 130.52,350.72 133.60,353.00 C136.68,355.28 140.92,357.13 144.00,358.60 C147.08,360.07 148.10,360.93 152.10,361.80 C156.10,362.67 162.65,363.40 168.00,363.80 C173.35,364.20 177.48,364.80 184.20,364.20 C190.92,363.60 198.23,361.93 208.30,360.20 C218.37,358.47 238.55,354.87 244.60,353.80" fill="none" stroke="#ff30ff" stroke-width="1.0" stroke-linecap="butt" stroke-linejoin="round"/>
<path d="M75.40,277.20 C75.85,279.30 77.10,285.68 78.10,289.80 C79.10,293.92 80.12,297.85 81.40,301.90 C82.68,305.95 84.15,310.05 85.80,314.10 C87.45,318.15 89.08,322.17 91.30,326.20 C93.52,330.23 96.65,334.92 99.10,338.30 C101.55,341.68 103.47,343.63 106.00,346.50 C108.53,349.37 110.78,352.83 114.30,355.50 C117.82,358.17 122.82,360.72 127.10,362.50 C131.38,364.28 135.83,365.35 140.00,366.20 C144.17,367.05 146.08,367.60 152.10,367.60 C158.12,367.60 166.73,367.30 176.10,366.20 C185.47,365.10 196.88,363.07 208.30,361.00 C219.72,358.93 238.55,355.00 244.60,353.80" fill="none" stroke="#ff2020" stroke-width="1.7" stroke-dasharray="1.4,1.7" stroke-linecap="butt" stroke-linejoin="round"/>
<path d="M62.20,278.30 C62.83,279.85 64.63,284.77 66.00,287.60 C67.37,290.43 69.12,292.73 70.40,295.30 C71.68,297.87 72.68,299.87 73.70,303.00 C74.72,306.13 75.40,310.05 76.50,314.10 C77.60,318.15 79.02,323.08 80.30,327.30 C81.58,331.52 82.82,335.62 84.20,339.40 C85.58,343.18 87.13,347.07 88.60,350.00 C90.07,352.93 91.40,354.90 93.00,357.00 C94.60,359.10 95.72,360.47 98.20,362.60 C100.68,364.73 104.42,367.67 107.90,369.80 C111.38,371.93 115.35,373.92 119.10,375.40 C122.85,376.88 125.45,377.98 130.40,378.70 C135.35,379.42 142.52,379.82 148.80,379.70 C155.08,379.58 160.87,378.97 168.10,378.00 C175.33,377.03 184.17,375.67 192.20,373.90 C200.23,372.13 207.57,369.42 216.30,367.40 C225.03,365.38 239.88,362.73 244.60,361.80" fill="none" stroke="#ff2020" stroke-width="1.8" stroke-dasharray="4.4,2.4" stroke-linecap="butt" stroke-linejoin="round"/>
<text x="48.5" y="348.6" font-size="6.6" font-weight="bold" font-family="Liberation Mono" textLength="29" lengthAdjust="spacingAndGlyphs"><tspan font-family="Liberation Serif" font-style="italic" font-size="7.5">F</tspan><tspan font-size="4.8" dy="1.4" font-style="italic" font-family="Liberation Sans">DM</tspan><tspan dy="-1.4"> = 1</tspan></text>
<rect x="35.10" y="230.40" width="209.50" height="165.70" fill="none" stroke="#5c5c5c" stroke-width="1.1"/>
<line x1="35.10" y1="230.40" x2="39.40" y2="230.40" stroke="#5c5c5c" stroke-width="0.9"/>
<text x="31.8" y="232.6" font-size="6.6" text-anchor="end" font-family="Liberation Mono" font-weight="bold">1O<tspan font-size="5.6" dy="-3" dx="0.4">&#8722;35</tspan></text>
<line x1="35.10" y1="254.07" x2="39.40" y2="254.07" stroke="#5c5c5c" stroke-width="0.9"/>
<text x="31.8" y="256.3" font-size="6.6" text-anchor="end" font-family="Liberation Mono" font-weight="bold">1O<tspan font-size="5.6" dy="-3" dx="0.4">&#8722;36</tspan></text>
<line x1="35.10" y1="277.74" x2="39.40" y2="277.74" stroke="#5c5c5c" stroke-width="0.9"/>
<text x="31.8" y="279.9" font-size="6.6" text-anchor="end" font-family="Liberation Mono" font-weight="bold">1O<tspan font-size="5.6" dy="-3" dx="0.4">&#8722;37</tspan></text>
<line x1="35.10" y1="301.41" x2="39.40" y2="301.41" stroke="#5c5c5c" stroke-width="0.9"/>
<text x="31.8" y="303.6" font-size="6.6" text-anchor="end" font-family="Liberation Mono" font-weight="bold">1O<tspan font-size="5.6" dy="-3" dx="0.4">&#8722;38</tspan></text>
<line x1="35.10" y1="325.09" x2="39.40" y2="325.09" stroke="#5c5c5c" stroke-width="0.9"/>
<text x="31.8" y="327.3" font-size="6.6" text-anchor="end" font-family="Liberation Mono" font-weight="bold">1O<tspan font-size="5.6" dy="-3" dx="0.4">&#8722;39</tspan></text>
<line x1="35.10" y1="348.76" x2="39.40" y2="348.76" stroke="#5c5c5c" stroke-width="0.9"/>
<text x="31.8" y="351.0" font-size="6.6" text-anchor="end" font-family="Liberation Mono" font-weight="bold">1O<tspan font-size="5.6" dy="-3" dx="0.4">&#8722;40</tspan></text>
<line x1="35.10" y1="372.43" x2="39.40" y2="372.43" stroke="#5c5c5c" stroke-width="0.9"/>
<text x="31.8" y="374.6" font-size="6.6" text-anchor="end" font-family="Liberation Mono" font-weight="bold">1O<tspan font-size="5.6" dy="-3" dx="0.4">&#8722;41</tspan></text>
<line x1="35.10" y1="396.10" x2="39.40" y2="396.10" stroke="#5c5c5c" stroke-width="0.9"/>
<text x="31.8" y="398.3" font-size="6.6" text-anchor="end" font-family="Liberation Mono" font-weight="bold">1O<tspan font-size="5.6" dy="-3" dx="0.4">&#8722;42</tspan></text>
<line x1="35.10" y1="388.97" x2="37.30" y2="388.97" stroke="#5c5c5c" stroke-width="0.9"/>
<line x1="35.10" y1="384.81" x2="37.30" y2="384.81" stroke="#5c5c5c" stroke-width="0.9"/>
<line x1="35.10" y1="381.85" x2="37.30" y2="381.85" stroke="#5c5c5c" stroke-width="0.9"/>
<line x1="35.10" y1="379.55" x2="37.30" y2="379.55" stroke="#5c5c5c" stroke-width="0.9"/>
<line x1="35.10" y1="377.68" x2="37.30" y2="377.68" stroke="#5c5c5c" stroke-width="0.9"/>
<line x1="35.10" y1="376.10" x2="37.30" y2="376.10" stroke="#5c5c5c" stroke-width="0.9"/>
<line x1="35.10" y1="374.72" x2="37.30" y2="374.72" stroke="#5c5c5c" stroke-width="0.9"/>
<line x1="35.10" y1="373.51" x2="37.30" y2="373.51" stroke="#5c5c5c" stroke-width="0.9"/>
<line x1="35.10" y1="365.30" x2="37.30" y2="365.30" stroke="#5c5c5c" stroke-width="0.9"/>
<line x1="35.10" y1="361.13" x2="37.30" y2="361.13" stroke="#5c5c5c" stroke-width="0.9"/>
<line x1="35.10" y1="358.18" x2="37.30" y2="358.18" stroke="#5c5c5c" stroke-width="0.9"/>
<line x1="35.10" y1="355.88" x2="37.30" y2="355.88" stroke="#5c5c5c" stroke-width="0.9"/>
<line x1="35.10" y1="354.01" x2="37.30" y2="354.01" stroke="#5c5c5c" stroke-width="0.9"/>
<line x1="35.10" y1="352.42" x2="37.30" y2="352.42" stroke="#5c5c5c" stroke-width="0.9"/>
<line x1="35.10" y1="351.05" x2="37.30" y2="351.05" stroke="#5c5c5c" stroke-width="0.9"/>
<line x1="35.10" y1="349.84" x2="37.30" y2="349.84" stroke="#5c5c5c" stroke-width="0.9"/>
<line x1="35.10" y1="341.63" x2="37.30" y2="341.63" stroke="#5c5c5c" stroke-width="0.9"/>
<line x1="35.10" y1="337.46" x2="37.30" y2="337.46" stroke="#5c5c5c" stroke-width="0.9"/>
<line x1="35.10" y1="334.51" x2="37.30" y2="334.51" stroke="#5c5c5c" stroke-width="0.9"/>
<line x1="35.10" y1="332.21" x2="37.30" y2="332.21" stroke="#5c5c5c" stroke-width="0.9"/>
<line x1="35.10" y1="330.34" x2="37.30" y2="330.34" stroke="#5c5c5c" stroke-width="0.9"/>
<line x1="35.10" y1="328.75" x2="37.30" y2="328.75" stroke="#5c5c5c" stroke-width="0.9"/>
<line x1="35.10" y1="327.38" x2="37.30" y2="327.38" stroke="#5c5c5c" stroke-width="0.9"/>
<line x1="35.10" y1="326.17" x2="37.30" y2="326.17" stroke="#5c5c5c" stroke-width="0.9"/>
<line x1="35.10" y1="317.96" x2="37.30" y2="317.96" stroke="#5c5c5c" stroke-width="0.9"/>
<line x1="35.10" y1="313.79" x2="37.30" y2="313.79" stroke="#5c5c5c" stroke-width="0.9"/>
<line x1="35.10" y1="310.83" x2="37.30" y2="310.83" stroke="#5c5c5c" stroke-width="0.9"/>
<line x1="35.10" y1="308.54" x2="37.30" y2="308.54" stroke="#5c5c5c" stroke-width="0.9"/>
<line x1="35.10" y1="306.67" x2="37.30" y2="306.67" stroke="#5c5c5c" stroke-width="0.9"/>
<line x1="35.10" y1="305.08" x2="37.30" y2="305.08" stroke="#5c5c5c" stroke-width="0.9"/>
<line x1="35.10" y1="303.71" x2="37.30" y2="303.71" stroke="#5c5c5c" stroke-width="0.9"/>
<line x1="35.10" y1="302.50" x2="37.30" y2="302.50" stroke="#5c5c5c" stroke-width="0.9"/>
<line x1="35.10" y1="294.29" x2="37.30" y2="294.29" stroke="#5c5c5c" stroke-width="0.9"/>
<line x1="35.10" y1="290.12" x2="37.30" y2="290.12" stroke="#5c5c5c" stroke-width="0.9"/>
<line x1="35.10" y1="287.16" x2="37.30" y2="287.16" stroke="#5c5c5c" stroke-width="0.9"/>
<line x1="35.10" y1="284.87" x2="37.30" y2="284.87" stroke="#5c5c5c" stroke-width="0.9"/>
<line x1="35.10" y1="282.99" x2="37.30" y2="282.99" stroke="#5c5c5c" stroke-width="0.9"/>
<line x1="35.10" y1="281.41" x2="37.30" y2="281.41" stroke="#5c5c5c" stroke-width="0.9"/>
<line x1="35.10" y1="280.04" x2="37.30" y2="280.04" stroke="#5c5c5c" stroke-width="0.9"/>
<line x1="35.10" y1="278.83" x2="37.30" y2="278.83" stroke="#5c5c5c" stroke-width="0.9"/>
<line x1="35.10" y1="270.62" x2="37.30" y2="270.62" stroke="#5c5c5c" stroke-width="0.9"/>
<line x1="35.10" y1="266.45" x2="37.30" y2="266.45" stroke="#5c5c5c" stroke-width="0.9"/>
<line x1="35.10" y1="263.49" x2="37.30" y2="263.49" stroke="#5c5c5c" stroke-width="0.9"/>
<line x1="35.10" y1="261.20" x2="37.30" y2="261.20" stroke="#5c5c5c" stroke-width="0.9"/>
<line x1="35.10" y1="259.32" x2="37.30" y2="259.32" stroke="#5c5c5c" stroke-width="0.9"/>
<line x1="35.10" y1="257.74" x2="37.30" y2="257.74" stroke="#5c5c5c" stroke-width="0.9"/>
<line x1="35.10" y1="256.37" x2="37.30" y2="256.37" stroke="#5c5c5c" stroke-width="0.9"/>
<line x1="35.10" y1="255.15" x2="37.30" y2="255.15" stroke="#5c5c5c" stroke-width="0.9"/>
<line x1="35.10" y1="246.95" x2="37.30" y2="246.95" stroke="#5c5c5c" stroke-width="0.9"/>
<line x1="35.10" y1="242.78" x2="37.30" y2="242.78" stroke="#5c5c5c" stroke-width="0.9"/>
<line x1="35.10" y1="239.82" x2="37.30" y2="239.82" stroke="#5c5c5c" stroke-width="0.9"/>
<line x1="35.10" y1="237.53" x2="37.30" y2="237.53" stroke="#5c5c5c" stroke-width="0.9"/>
<line x1="35.10" y1="235.65" x2="37.30" y2="235.65" stroke="#5c5c5c" stroke-width="0.9"/>
<line x1="35.10" y1="234.07" x2="37.30" y2="234.07" stroke="#5c5c5c" stroke-width="0.9"/>
<line x1="35.10" y1="232.69" x2="37.30" y2="232.69" stroke="#5c5c5c" stroke-width="0.9"/>
<line x1="35.10" y1="231.48" x2="37.30" y2="231.48" stroke="#5c5c5c" stroke-width="0.9"/>
<line x1="62.51" y1="396.10" x2="62.51" y2="391.80" stroke="#5c5c5c" stroke-width="0.9"/>
<line x1="153.55" y1="396.10" x2="153.55" y2="391.80" stroke="#5c5c5c" stroke-width="0.9"/>
<line x1="244.60" y1="396.10" x2="244.60" y2="391.80" stroke="#5c5c5c" stroke-width="0.9"/>
<line x1="42.31" y1="396.10" x2="42.31" y2="393.90" stroke="#5c5c5c" stroke-width="0.9"/>
<line x1="48.40" y1="396.10" x2="48.40" y2="393.90" stroke="#5c5c5c" stroke-width="0.9"/>
<line x1="53.68" y1="396.10" x2="53.68" y2="393.90" stroke="#5c5c5c" stroke-width="0.9"/>
<line x1="58.34" y1="396.10" x2="58.34" y2="393.90" stroke="#5c5c5c" stroke-width="0.9"/>
<line x1="89.92" y1="396.10" x2="89.92" y2="393.90" stroke="#5c5c5c" stroke-width="0.9"/>
<line x1="105.95" y1="396.10" x2="105.95" y2="393.90" stroke="#5c5c5c" stroke-width="0.9"/>
<line x1="117.32" y1="396.10" x2="117.32" y2="393.90" stroke="#5c5c5c" stroke-width="0.9"/>
<line x1="126.15" y1="396.10" x2="126.15" y2="393.90" stroke="#5c5c5c" stroke-width="0.9"/>
<line x1="133.36" y1="396.10" x2="133.36" y2="393.90" stroke="#5c5c5c" stroke-width="0.9"/>
<line x1="139.45" y1="396.10" x2="139.45" y2="393.90" stroke="#5c5c5c" stroke-width="0.9"/>
<line x1="144.73" y1="396.10" x2="144.73" y2="393.90" stroke="#5c5c5c" stroke-width="0.9"/>
<line x1="149.39" y1="396.10" x2="149.39" y2="393.90" stroke="#5c5c5c" stroke-width="0.9"/>
<line x1="180.96" y1="396.10" x2="180.96" y2="393.90" stroke="#5c5c5c" stroke-width="0.9"/>
<line x1="196.99" y1="396.10" x2="196.99" y2="393.90" stroke="#5c5c5c" stroke-width="0.9"/>
<line x1="208.37" y1="396.10" x2="208.37" y2="393.90" stroke="#5c5c5c" stroke-width="0.9"/>
<line x1="217.19" y1="396.10" x2="217.19" y2="393.90" stroke="#5c5c5c" stroke-width="0.9"/>
<line x1="224.40" y1="396.10" x2="224.40" y2="393.90" stroke="#5c5c5c" stroke-width="0.9"/>
<line x1="230.50" y1="396.10" x2="230.50" y2="393.90" stroke="#5c5c5c" stroke-width="0.9"/>
<line x1="235.78" y1="396.10" x2="235.78" y2="393.90" stroke="#5c5c5c" stroke-width="0.9"/>
<line x1="240.43" y1="396.10" x2="240.43" y2="393.90" stroke="#5c5c5c" stroke-width="0.9"/>
<text x="62.5" y="402.2" font-size="6.3" text-anchor="middle" font-family="Liberation Mono" font-weight="bold">1O</text>
<text x="153.6" y="402.2" font-size="6.3" text-anchor="middle" font-family="Liberation Mono" font-weight="bold">1OO</text>
<text x="244.6" y="402.2" font-size="6.3" text-anchor="middle" font-family="Liberation Mono" font-weight="bold">1OOO</text>
<polygon points="35.1,448.5 244.6,448.5 244.6,523.2 208.3,530.4 181.0,536.4 154.5,534.1 154.5,531.5 144.0,534.0 106.3,543.7 82.2,547.7 62.9,550.1 48.5,550.4 35.1,548.2" fill="#f0f0f0"/>
<text x="28.7" y="439.6" font-size="5.5" text-anchor="middle" font-weight="bold" font-family="Liberation Mono" >c</text>
<path d="M35.10,567.40 C40.27,567.05 55.58,565.92 66.10,565.30 C76.62,564.68 86.55,564.02 98.20,563.70 C109.85,563.38 124.35,563.67 136.00,563.40 C147.65,563.13 158.73,563.05 168.10,562.10 C177.47,561.15 184.17,558.88 192.20,557.70 C200.23,556.52 209.60,555.33 216.30,555.00 C223.00,554.67 227.68,555.38 232.40,555.70 C237.12,556.02 242.57,556.70 244.60,556.90" fill="none" stroke="#d2d2d2" stroke-width="2.6" stroke-linecap="butt" stroke-linejoin="round"/>
<polyline points="40.4,448.5 46.0,465.3 56.5,481.3 67.7,490.2 79.0,495.0 90.2,498.2 112.7,499.0 136.0,497.7 160.1,495.8 192.2,488.6 216.3,481.3 244.6,473.6" fill="none" stroke="#303030" stroke-width="0.9" stroke-linecap="butt" stroke-linejoin="round"/>
<polyline points="35.1,475.7 38.8,486.1 50.1,500.6 62.1,515.1 85.4,523.1 111.1,523.1 136.0,519.9 184.2,507.0 244.6,490.6" fill="none" stroke="#808080" stroke-width="0.8" stroke-linecap="butt" stroke-linejoin="round"/>
<path d="M35.10,529.20 C38.67,530.22 48.65,534.63 56.50,535.30 C64.35,535.97 70.43,534.75 82.20,533.20 C93.97,531.65 118.13,527.55 127.10,526.00 C136.07,524.45 126.48,526.53 136.00,523.90 C145.52,521.27 166.10,515.28 184.20,510.20 C202.30,505.12 234.53,496.20 244.60,493.40" fill="none" stroke="#4a90d0" stroke-width="0.9" stroke-linecap="butt" stroke-linejoin="round"/>
<path d="M76.60,448.50 C77.53,452.10 80.20,463.83 82.20,470.10 C84.20,476.37 85.93,481.02 88.60,486.10 C91.27,491.18 94.98,496.58 98.20,500.60 C101.42,504.62 104.15,507.38 107.90,510.20 C111.65,513.02 116.15,515.75 120.70,517.50 C125.25,519.25 129.97,520.08 135.20,520.70 C140.43,521.32 143.93,522.13 152.10,521.20 C160.27,520.27 168.78,518.32 184.20,515.10 C199.62,511.88 234.53,504.10 244.60,501.90" fill="none" stroke="#ff2020" stroke-width="0.9" stroke-linecap="butt" stroke-linejoin="round"/>
<path d="M35.10,532.40 C37.05,533.47 41.90,537.05 46.80,538.80 C51.70,540.55 58.33,542.22 64.50,542.90 C70.67,543.58 76.83,543.43 83.80,542.90 C90.77,542.37 97.60,541.27 106.30,539.70 C115.00,538.13 112.95,539.43 136.00,533.50 C159.05,527.57 226.50,509.00 244.60,504.10" fill="none" stroke="#8040b0" stroke-width="0.9" stroke-linecap="butt" stroke-linejoin="round"/>
<path d="M35.10,548.20 C37.33,548.57 43.87,550.08 48.50,550.40 C53.13,550.72 57.28,550.55 62.90,550.10 C68.52,549.65 74.97,548.77 82.20,547.70 C89.43,546.63 97.33,545.80 106.30,543.70 C115.27,541.60 112.95,541.53 136.00,535.10 C159.05,528.67 226.50,510.10 244.60,505.10" fill="none" stroke="#33c0f0" stroke-width="0.9" stroke-linecap="butt" stroke-linejoin="round"/>
<path d="M154.50,534.10 C158.92,534.48 172.03,537.02 181.00,536.40 C189.97,535.78 197.70,532.60 208.30,530.40 C218.90,528.20 238.55,524.40 244.60,523.20" fill="none" stroke="#ff30ff" stroke-width="1.0" stroke-linecap="butt" stroke-linejoin="round"/>
<path d="M78.20,492.60 C79.13,495.27 81.93,503.03 83.80,508.60 C85.67,514.17 87.80,521.58 89.40,526.00 C91.00,530.42 92.20,532.97 93.40,535.10 C94.60,537.23 94.98,536.83 96.60,538.80 C98.22,540.77 100.15,544.08 103.10,546.90 C106.05,549.72 110.30,553.17 114.30,555.70 C118.30,558.23 123.48,560.68 127.10,562.10 C130.72,563.52 130.50,563.67 136.00,564.20 C141.50,564.73 152.07,565.70 160.10,565.30 C168.13,564.90 176.17,563.60 184.20,561.80 C192.23,560.00 198.23,557.05 208.30,554.50 C218.37,551.95 238.55,547.83 244.60,546.50" fill="none" stroke="#ff2020" stroke-width="1.7" stroke-dasharray="1.4,1.7" stroke-linecap="butt" stroke-linejoin="round"/>
<path d="M62.10,507.80 C63.57,511.15 68.62,523.53 70.90,527.90 C73.18,532.27 73.65,531.37 75.80,534.00 C77.95,536.63 81.67,540.22 83.80,543.70 C85.93,547.18 86.73,551.17 88.60,554.90 C90.47,558.63 92.58,562.88 95.00,566.10 C97.42,569.32 99.88,571.78 103.10,574.20 C106.32,576.62 110.30,578.87 114.30,580.60 C118.30,582.33 123.48,583.73 127.10,584.60 C130.72,585.47 131.83,585.65 136.00,585.80 C140.17,585.95 145.42,586.03 152.10,585.50 C158.78,584.97 168.08,584.15 176.10,582.60 C184.12,581.05 192.17,578.33 200.20,576.20 C208.23,574.07 216.90,571.67 224.30,569.80 C231.70,567.93 241.22,565.80 244.60,565.00" fill="none" stroke="#ff2020" stroke-width="1.8" stroke-dasharray="4.4,2.4" stroke-linecap="butt" stroke-linejoin="round"/>
<text x="181.3" y="601.0" font-size="6.6" font-weight="bold" font-family="Liberation Mono" textLength="57.5" lengthAdjust="spacingAndGlyphs"><tspan font-family="Liberation Serif" font-style="italic" font-size="7.5">F</tspan><tspan font-size="4.8" dy="1.4" font-style="italic" font-family="Liberation Sans">DM</tspan><tspan dy="-1.4"> = (</tspan><tspan font-family="Liberation Serif" font-style="italic" font-size="7.5">&#945;m</tspan><tspan font-size="4.8" dy="1.4" font-style="italic" font-family="Liberation Sans">e</tspan><tspan dy="-1.4" font-family="Liberation Serif" font-style="italic" font-size="7.5">/q</tspan><tspan>)</tspan><tspan font-size="4.8" dy="-3">2</tspan></text>
<rect x="35.10" y="448.50" width="209.50" height="164.90" fill="none" stroke="#5c5c5c" stroke-width="1.1"/>
<line x1="35.10" y1="448.50" x2="39.40" y2="448.50" stroke="#5c5c5c" stroke-width="0.9"/>
<text x="31.8" y="450.7" font-size="6.6" text-anchor="end" font-family="Liberation Mono" font-weight="bold">1O<tspan font-size="5.6" dy="-3" dx="0.4">&#8722;32</tspan></text>
<line x1="35.10" y1="475.98" x2="39.40" y2="475.98" stroke="#5c5c5c" stroke-width="0.9"/>
<text x="31.8" y="478.2" font-size="6.6" text-anchor="end" font-family="Liberation Mono" font-weight="bold">1O<tspan font-size="5.6" dy="-3" dx="0.4">&#8722;33</tspan></text>
<line x1="35.10" y1="503.47" x2="39.40" y2="503.47" stroke="#5c5c5c" stroke-width="0.9"/>
<text x="31.8" y="505.7" font-size="6.6" text-anchor="end" font-family="Liberation Mono" font-weight="bold">1O<tspan font-size="5.6" dy="-3" dx="0.4">&#8722;34</tspan></text>
<line x1="35.10" y1="530.95" x2="39.40" y2="530.95" stroke="#5c5c5c" stroke-width="0.9"/>
<text x="31.8" y="533.2" font-size="6.6" text-anchor="end" font-family="Liberation Mono" font-weight="bold">1O<tspan font-size="5.6" dy="-3" dx="0.4">&#8722;35</tspan></text>
<line x1="35.10" y1="558.43" x2="39.40" y2="558.43" stroke="#5c5c5c" stroke-width="0.9"/>
<text x="31.8" y="560.6" font-size="6.6" text-anchor="end" font-family="Liberation Mono" font-weight="bold">1O<tspan font-size="5.6" dy="-3" dx="0.4">&#8722;36</tspan></text>
<line x1="35.10" y1="585.92" x2="39.40" y2="585.92" stroke="#5c5c5c" stroke-width="0.9"/>
<text x="31.8" y="588.1" font-size="6.6" text-anchor="end" font-family="Liberation Mono" font-weight="bold">1O<tspan font-size="5.6" dy="-3" dx="0.4">&#8722;37</tspan></text>
<line x1="35.10" y1="613.40" x2="39.40" y2="613.40" stroke="#5c5c5c" stroke-width="0.9"/>
<text x="31.8" y="615.6" font-size="6.6" text-anchor="end" font-family="Liberation Mono" font-weight="bold">1O<tspan font-size="5.6" dy="-3" dx="0.4">&#8722;38</tspan></text>
<line x1="35.10" y1="605.13" x2="37.30" y2="605.13" stroke="#5c5c5c" stroke-width="0.9"/>
<line x1="35.10" y1="600.29" x2="37.30" y2="600.29" stroke="#5c5c5c" stroke-width="0.9"/>
<line x1="35.10" y1="596.85" x2="37.30" y2="596.85" stroke="#5c5c5c" stroke-width="0.9"/>
<line x1="35.10" y1="594.19" x2="37.30" y2="594.19" stroke="#5c5c5c" stroke-width="0.9"/>
<line x1="35.10" y1="592.01" x2="37.30" y2="592.01" stroke="#5c5c5c" stroke-width="0.9"/>
<line x1="35.10" y1="590.17" x2="37.30" y2="590.17" stroke="#5c5c5c" stroke-width="0.9"/>
<line x1="35.10" y1="588.58" x2="37.30" y2="588.58" stroke="#5c5c5c" stroke-width="0.9"/>
<line x1="35.10" y1="587.17" x2="37.30" y2="587.17" stroke="#5c5c5c" stroke-width="0.9"/>
<line x1="35.10" y1="577.64" x2="37.30" y2="577.64" stroke="#5c5c5c" stroke-width="0.9"/>
<line x1="35.10" y1="572.80" x2="37.30" y2="572.80" stroke="#5c5c5c" stroke-width="0.9"/>
<line x1="35.10" y1="569.37" x2="37.30" y2="569.37" stroke="#5c5c5c" stroke-width="0.9"/>
<line x1="35.10" y1="566.71" x2="37.30" y2="566.71" stroke="#5c5c5c" stroke-width="0.9"/>
<line x1="35.10" y1="564.53" x2="37.30" y2="564.53" stroke="#5c5c5c" stroke-width="0.9"/>
<line x1="35.10" y1="562.69" x2="37.30" y2="562.69" stroke="#5c5c5c" stroke-width="0.9"/>
<line x1="35.10" y1="561.10" x2="37.30" y2="561.10" stroke="#5c5c5c" stroke-width="0.9"/>
<line x1="35.10" y1="559.69" x2="37.30" y2="559.69" stroke="#5c5c5c" stroke-width="0.9"/>
<line x1="35.10" y1="550.16" x2="37.30" y2="550.16" stroke="#5c5c5c" stroke-width="0.9"/>
<line x1="35.10" y1="545.32" x2="37.30" y2="545.32" stroke="#5c5c5c" stroke-width="0.9"/>
<line x1="35.10" y1="541.89" x2="37.30" y2="541.89" stroke="#5c5c5c" stroke-width="0.9"/>
<line x1="35.10" y1="539.22" x2="37.30" y2="539.22" stroke="#5c5c5c" stroke-width="0.9"/>
<line x1="35.10" y1="537.05" x2="37.30" y2="537.05" stroke="#5c5c5c" stroke-width="0.9"/>
<line x1="35.10" y1="535.21" x2="37.30" y2="535.21" stroke="#5c5c5c" stroke-width="0.9"/>
<line x1="35.10" y1="533.61" x2="37.30" y2="533.61" stroke="#5c5c5c" stroke-width="0.9"/>
<line x1="35.10" y1="532.21" x2="37.30" y2="532.21" stroke="#5c5c5c" stroke-width="0.9"/>
<line x1="35.10" y1="522.68" x2="37.30" y2="522.68" stroke="#5c5c5c" stroke-width="0.9"/>
<line x1="35.10" y1="517.84" x2="37.30" y2="517.84" stroke="#5c5c5c" stroke-width="0.9"/>
<line x1="35.10" y1="514.40" x2="37.30" y2="514.40" stroke="#5c5c5c" stroke-width="0.9"/>
<line x1="35.10" y1="511.74" x2="37.30" y2="511.74" stroke="#5c5c5c" stroke-width="0.9"/>
<line x1="35.10" y1="509.56" x2="37.30" y2="509.56" stroke="#5c5c5c" stroke-width="0.9"/>
<line x1="35.10" y1="507.72" x2="37.30" y2="507.72" stroke="#5c5c5c" stroke-width="0.9"/>
<line x1="35.10" y1="506.13" x2="37.30" y2="506.13" stroke="#5c5c5c" stroke-width="0.9"/>
<line x1="35.10" y1="504.72" x2="37.30" y2="504.72" stroke="#5c5c5c" stroke-width="0.9"/>
<line x1="35.10" y1="495.19" x2="37.30" y2="495.19" stroke="#5c5c5c" stroke-width="0.9"/>
<line x1="35.10" y1="490.35" x2="37.30" y2="490.35" stroke="#5c5c5c" stroke-width="0.9"/>
<line x1="35.10" y1="486.92" x2="37.30" y2="486.92" stroke="#5c5c5c" stroke-width="0.9"/>
<line x1="35.10" y1="484.26" x2="37.30" y2="484.26" stroke="#5c5c5c" stroke-width="0.9"/>
<line x1="35.10" y1="482.08" x2="37.30" y2="482.08" stroke="#5c5c5c" stroke-width="0.9"/>
<line x1="35.10" y1="480.24" x2="37.30" y2="480.24" stroke="#5c5c5c" stroke-width="0.9"/>
<line x1="35.10" y1="478.65" x2="37.30" y2="478.65" stroke="#5c5c5c" stroke-width="0.9"/>
<line x1="35.10" y1="477.24" x2="37.30" y2="477.24" stroke="#5c5c5c" stroke-width="0.9"/>
<line x1="35.10" y1="467.71" x2="37.30" y2="467.71" stroke="#5c5c5c" stroke-width="0.9"/>
<line x1="35.10" y1="462.87" x2="37.30" y2="462.87" stroke="#5c5c5c" stroke-width="0.9"/>
<line x1="35.10" y1="459.44" x2="37.30" y2="459.44" stroke="#5c5c5c" stroke-width="0.9"/>
<line x1="35.10" y1="456.77" x2="37.30" y2="456.77" stroke="#5c5c5c" stroke-width="0.9"/>
<line x1="35.10" y1="454.60" x2="37.30" y2="454.60" stroke="#5c5c5c" stroke-width="0.9"/>
<line x1="35.10" y1="452.76" x2="37.30" y2="452.76" stroke="#5c5c5c" stroke-width="0.9"/>
<line x1="35.10" y1="451.16" x2="37.30" y2="451.16" stroke="#5c5c5c" stroke-width="0.9"/>
<line x1="35.10" y1="449.76" x2="37.30" y2="449.76" stroke="#5c5c5c" stroke-width="0.9"/>
<line x1="62.51" y1="613.40" x2="62.51" y2="609.10" stroke="#5c5c5c" stroke-width="0.9"/>
<line x1="153.55" y1="613.40" x2="153.55" y2="609.10" stroke="#5c5c5c" stroke-width="0.9"/>
<line x1="244.60" y1="613.40" x2="244.60" y2="609.10" stroke="#5c5c5c" stroke-width="0.9"/>
<line x1="42.31" y1="613.40" x2="42.31" y2="611.20" stroke="#5c5c5c" stroke-width="0.9"/>
<line x1="48.40" y1="613.40" x2="48.40" y2="611.20" stroke="#5c5c5c" stroke-width="0.9"/>
<line x1="53.68" y1="613.40" x2="53.68" y2="611.20" stroke="#5c5c5c" stroke-width="0.9"/>
<line x1="58.34" y1="613.40" x2="58.34" y2="611.20" stroke="#5c5c5c" stroke-width="0.9"/>
<line x1="89.92" y1="613.40" x2="89.92" y2="611.20" stroke="#5c5c5c" stroke-width="0.9"/>
<line x1="105.95" y1="613.40" x2="105.95" y2="611.20" stroke="#5c5c5c" stroke-width="0.9"/>
<line x1="117.32" y1="613.40" x2="117.32" y2="611.20" stroke="#5c5c5c" stroke-width="0.9"/>
<line x1="126.15" y1="613.40" x2="126.15" y2="611.20" stroke="#5c5c5c" stroke-width="0.9"/>
<line x1="133.36" y1="613.40" x2="133.36" y2="611.20" stroke="#5c5c5c" stroke-width="0.9"/>
<line x1="139.45" y1="613.40" x2="139.45" y2="611.20" stroke="#5c5c5c" stroke-width="0.9"/>
<line x1="144.73" y1="613.40" x2="144.73" y2="611.20" stroke="#5c5c5c" stroke-width="0.9"/>
<line x1="149.39" y1="613.40" x2="149.39" y2="611.20" stroke="#5c5c5c" stroke-width="0.9"/>
<line x1="180.96" y1="613.40" x2="180.96" y2="611.20" stroke="#5c5c5c" stroke-width="0.9"/>
<line x1="196.99" y1="613.40" x2="196.99" y2="611.20" stroke="#5c5c5c" stroke-width="0.9"/>
<line x1="208.37" y1="613.40" x2="208.37" y2="611.20" stroke="#5c5c5c" stroke-width="0.9"/>
<line x1="217.19" y1="613.40" x2="217.19" y2="611.20" stroke="#5c5c5c" stroke-width="0.9"/>
<line x1="224.40" y1="613.40" x2="224.40" y2="611.20" stroke="#5c5c5c" stroke-width="0.9"/>
<line x1="230.50" y1="613.40" x2="230.50" y2="611.20" stroke="#5c5c5c" stroke-width="0.9"/>
<line x1="235.78" y1="613.40" x2="235.78" y2="611.20" stroke="#5c5c5c" stroke-width="0.9"/>
<line x1="240.43" y1="613.40" x2="240.43" y2="611.20" stroke="#5c5c5c" stroke-width="0.9"/>
<text x="62.5" y="619.5" font-size="6.3" text-anchor="middle" font-family="Liberation Mono" font-weight="bold">1O</text>
<text x="153.6" y="619.5" font-size="6.3" text-anchor="middle" font-family="Liberation Mono" font-weight="bold">1OO</text>
<text x="244.6" y="619.5" font-size="6.3" text-anchor="middle" font-family="Liberation Mono" font-weight="bold">1OOO</text>
<polygon points="383.5,226.5 605.7,226.5 605.7,302.6 598.5,300.9 593.4,308.6 588.2,315.5 583.0,317.2 578.7,320.3 574.4,318.9 571.0,321.5 564.1,331.0 558.0,332.4 550.3,329.6 541.7,331.9 526.2,347.4 503.8,353.4 503.8,341.3 497.8,341.3 491.7,346.5 490.0,337.9 488.7,337.3 476.8,338.1 466.7,341.5 461.6,344.4 458.2,338.1 456.5,337.3 455.7,330.5 444.7,335.6 432.8,336.9 419.3,334.7 409.1,335.6 398.9,333.4 392.2,340.6 383.5,344.9" fill="#f0f0f0"/>
<text x="376.9" y="222.0" font-size="5.5" text-anchor="middle" font-weight="bold" font-family="Liberation Mono" >e</text>
<polyline points="428.3,301.3 453.4,310.6 458.1,307.1 459.8,294.5 463.9,285.2 475.0,289.9 483.1,292.4 493.7,298.3 501.5,304.9 514.7,309.5 524.5,315.5 533.9,320.3 534.4,310.3 535.1,301.7 537.0,297.0 541.0,290.2 544.9,291.8 560.0,297.7 569.2,300.0 579.6,304.3 593.4,307.8 600.3,312.1 605.7,317.2" fill="none" stroke="#f0d040" stroke-width="0.9" stroke-linecap="butt" stroke-linejoin="round"/>
<path d="M383.50,317.30 C385.42,317.30 391.13,317.40 395.00,317.30 C398.87,317.20 402.80,317.38 406.70,316.70 C410.60,316.02 412.57,315.15 418.40,313.20 C424.23,311.25 434.90,307.53 441.70,305.00 C448.50,302.47 453.65,300.03 459.20,298.00 C464.75,295.97 471.02,293.83 475.00,292.80 C478.98,291.77 479.55,292.08 483.10,291.80 C486.65,291.52 493.45,290.88 496.30,291.10 C499.15,291.32 498.88,292.12 500.20,293.10 C501.52,294.08 501.57,295.80 504.20,297.00 C506.83,298.20 511.85,299.32 516.00,300.30 C520.15,301.28 524.72,302.35 529.10,302.90 C533.48,303.45 537.92,303.82 542.30,303.60 C546.68,303.38 552.45,302.27 555.40,301.60 C558.35,300.93 557.12,301.60 560.00,299.60 C562.88,297.60 568.28,292.27 572.70,289.60 C577.12,286.93 582.48,284.90 586.50,283.60 C590.52,282.30 593.60,282.10 596.80,281.80 C600.00,281.50 604.22,281.80 605.70,281.80" fill="none" stroke="#808080" stroke-width="0.8" stroke-linecap="butt" stroke-linejoin="round"/>
<polyline points="396.2,301.0 406.7,312.6 411.4,316.1 418.4,322.6 422.4,321.4 425.4,322.6 427.7,320.5 432.4,317.9 439.4,311.5 442.9,310.9 445.8,312.6 447.6,315.0 452.2,316.1 456.3,318.8 459.0,316.5 461.6,317.9 463.9,313.8 466.2,313.2 468.0,314.4 469.7,313.2 471.5,317.9 475.0,312.0 478.5,308.8 480.5,306.9 483.1,308.8 485.8,304.9 487.7,305.5 489.7,303.6 492.3,300.3 494.3,301.6 496.3,300.3 500.2,297.0 501.5,298.3 504.8,295.0 506.8,290.4 508.4,287.8 509.7,293.7 511.4,285.2 512.7,279.7 514.0,283.9 515.3,295.0 517.3,297.0 519.3,293.1 521.2,295.0 522.6,296.4 524.5,291.8 526.2,293.7 527.8,294.4 529.8,289.8 531.8,287.8 534.4,287.2 536.4,287.8 538.3,285.8 541.0,283.2 543.6,280.6 545.5,278.6 548.8,277.3 551.5,275.3 554.1,274.0 556.7,272.0 560.0,269.4 563.0,267.5 565.8,266.3 568.0,265.0 570.0,263.5 572.7,262.0 575.0,261.5 577.9,259.5 579.6,254.3 581.3,247.4 583.4,237.9 585.1,254.3 587.3,265.5 590.0,262.5 593.4,260.3 596.0,259.5 600.3,257.7 603.7,256.0 605.7,253.4" fill="none" stroke="#4d9cff" stroke-width="0.9" stroke-linecap="butt" stroke-linejoin="round"/>
<path d="M383.50,344.90 C384.95,344.18 389.63,342.52 392.20,340.60 C394.77,338.68 396.08,334.23 398.90,333.40 C401.72,332.57 405.70,335.38 409.10,335.60 C412.50,335.82 415.35,334.48 419.30,334.70 C423.25,334.92 428.57,336.75 432.80,336.90 C437.03,337.05 440.88,336.67 444.70,335.60 C448.52,334.53 453.87,331.35 455.70,330.50" fill="none" stroke="#ff2020" stroke-width="1.0" stroke-linecap="butt" stroke-linejoin="round"/>
<polyline points="455.7,330.5 456.5,337.3 462.4,340.6" fill="none" stroke="#ff2020" stroke-width="1.0" stroke-linecap="butt" stroke-linejoin="round"/>
<path d="M462.40,340.60 C464.80,338.63 471.70,333.98 476.80,328.80 C481.90,323.62 488.67,313.92 493.00,309.50 C497.33,305.08 499.63,304.38 502.80,302.30 C505.97,300.22 509.15,298.32 512.00,297.00 C514.85,295.68 517.05,295.05 519.90,294.40 C522.75,293.75 526.47,293.72 529.10,293.10 C531.73,292.48 533.40,291.58 535.70,290.70 C538.00,289.82 541.70,288.28 542.90,287.80" fill="none" stroke="#ff2020" stroke-width="1.0" stroke-linecap="butt" stroke-linejoin="round"/>
<polyline points="542.9,287.8 546.2,297.7 552.8,293.1" fill="none" stroke="#ff2020" stroke-width="1.0" stroke-linecap="butt" stroke-linejoin="round"/>
<path d="M552.80,293.10 C554.00,292.00 557.27,289.23 560.00,286.50 C562.73,283.77 566.52,279.63 569.20,276.70 C571.88,273.77 573.80,271.05 576.10,268.90 C578.40,266.75 580.42,264.75 583.00,263.80 C585.58,262.85 589.02,263.92 591.60,263.20 C594.18,262.48 596.15,261.85 598.50,259.50 C600.85,257.15 604.50,250.83 605.70,249.10" fill="none" stroke="#ff2020" stroke-width="1.0" stroke-linecap="butt" stroke-linejoin="round"/>
<polyline points="447.2,331.3 450.6,337.3 458.2,338.1 461.6,344.4 466.7,341.5 476.8,338.1 488.7,337.3 490.4,345.7 491.7,346.5 497.8,341.3 503.8,341.3 505.5,334.5 509.8,327.6 519.3,323.3 529.6,317.2 539.6,306.9 546.2,304.9 551.5,297.0 556.7,289.8 560.6,283.6" fill="none" stroke="#3c9a3c" stroke-width="0.9" stroke-linecap="butt" stroke-linejoin="round"/>
<polyline points="503.8,343.4 524.5,325.8 545.1,317.2 552.0,316.4 558.9,317.6 571.0,315.5 577.9,316.4 583.0,312.1 589.9,304.3 593.4,300.8 596.8,299.1 602.0,300.8 605.7,299.9" fill="none" stroke="#3a3a3a" stroke-width="0.9" stroke-linecap="butt" stroke-linejoin="round"/>
<polyline points="503.8,343.9 515.0,346.5 519.3,343.9 536.5,327.6 541.7,329.3 550.3,327.6 555.5,320.7 565.8,320.7 571.0,321.5 579.6,313.8 584.7,314.6 589.9,306.9 593.4,301.7 600.3,295.6" fill="none" stroke="#ffb040" stroke-width="0.9" stroke-linecap="butt" stroke-linejoin="round"/>
<polyline points="503.8,353.4 526.2,347.4 541.7,331.9 550.3,329.6 558.0,332.4 564.1,331.0 571.0,321.5 574.4,318.9 578.7,320.3 583.0,317.2 588.2,315.5 593.4,308.6 598.5,300.9 605.7,302.6" fill="none" stroke="#30e030" stroke-width="0.9" stroke-linecap="butt" stroke-linejoin="round"/>
<polyline points="383.5,362.3 390.5,361.8 398.9,354.2 404.0,357.5 410.8,360.1 420.0,359.5" fill="none" stroke="#ff2020" stroke-width="1.7" stroke-dasharray="1.4,1.7" stroke-linecap="butt" stroke-linejoin="round"/>
<path d="M383.50,377.60 C384.38,377.08 387.05,376.27 388.80,374.50 C390.55,372.73 392.32,369.25 394.00,367.00 C395.68,364.75 397.23,362.08 398.90,361.00 C400.57,359.92 402.02,360.50 404.00,360.50 C405.98,360.50 407.13,361.35 410.80,361.00 C414.47,360.65 420.92,359.58 426.00,358.40 C431.08,357.22 436.35,356.02 441.30,353.90 C446.25,351.78 453.30,347.07 455.70,345.70" fill="none" stroke="#ff2020" stroke-width="1.8" stroke-dasharray="4.4,2.4" stroke-linecap="butt" stroke-linejoin="round"/>
<polyline points="455.7,345.7 455.7,360.6" fill="none" stroke="#ff2020" stroke-width="1.8" stroke-dasharray="4.4,2.4" stroke-linecap="butt" stroke-linejoin="round"/>
<path d="M455.70,360.60 C458.38,359.82 466.08,358.97 471.80,355.90 C477.52,352.83 484.10,346.35 490.00,342.20 C495.90,338.05 501.45,334.88 507.20,331.00 C512.95,327.12 518.62,322.77 524.50,318.90 C530.38,315.03 539.50,309.65 542.50,307.80" fill="none" stroke="#ff2020" stroke-width="1.8" stroke-dasharray="4.4,2.4" stroke-linecap="butt" stroke-linejoin="round"/>
<polyline points="542.5,307.8 546.0,317.2" fill="none" stroke="#ff2020" stroke-width="1.8" stroke-dasharray="4.4,2.4" stroke-linecap="butt" stroke-linejoin="round"/>
<path d="M546.00,317.20 C548.15,316.05 554.45,313.17 558.90,310.30 C563.35,307.43 567.52,303.72 572.70,300.00 C577.88,296.28 584.50,291.92 590.00,288.00 C595.50,284.08 603.08,278.42 605.70,276.50" fill="none" stroke="#ff2020" stroke-width="1.8" stroke-dasharray="4.4,2.4" stroke-linecap="butt" stroke-linejoin="round"/>
<rect x="383.50" y="226.50" width="222.20" height="170.90" fill="none" stroke="#5c5c5c" stroke-width="1.1"/>
<line x1="383.50" y1="244.33" x2="387.80" y2="244.33" stroke="#5c5c5c" stroke-width="0.9"/>
<text x="381.5" y="246.5" font-size="6.6" text-anchor="end" font-family="Liberation Mono" font-weight="bold">1O<tspan font-size="5.6" dy="-3" dx="0.4">&#8722;12</tspan></text>
<line x1="383.50" y1="269.84" x2="387.80" y2="269.84" stroke="#5c5c5c" stroke-width="0.9"/>
<text x="381.5" y="272.0" font-size="6.6" text-anchor="end" font-family="Liberation Mono" font-weight="bold">1O<tspan font-size="5.6" dy="-3" dx="0.4">&#8722;13</tspan></text>
<line x1="383.50" y1="295.35" x2="387.80" y2="295.35" stroke="#5c5c5c" stroke-width="0.9"/>
<text x="381.5" y="297.6" font-size="6.6" text-anchor="end" font-family="Liberation Mono" font-weight="bold">1O<tspan font-size="5.6" dy="-3" dx="0.4">&#8722;14</tspan></text>
<line x1="383.50" y1="320.87" x2="387.80" y2="320.87" stroke="#5c5c5c" stroke-width="0.9"/>
<text x="381.5" y="323.1" font-size="6.6" text-anchor="end" font-family="Liberation Mono" font-weight="bold">1O<tspan font-size="5.6" dy="-3" dx="0.4">&#8722;15</tspan></text>
<line x1="383.50" y1="346.38" x2="387.80" y2="346.38" stroke="#5c5c5c" stroke-width="0.9"/>
<text x="381.5" y="348.6" font-size="6.6" text-anchor="end" font-family="Liberation Mono" font-weight="bold">1O<tspan font-size="5.6" dy="-3" dx="0.4">&#8722;16</tspan></text>
<line x1="383.50" y1="371.89" x2="387.80" y2="371.89" stroke="#5c5c5c" stroke-width="0.9"/>
<text x="381.5" y="374.1" font-size="6.6" text-anchor="end" font-family="Liberation Mono" font-weight="bold">1O<tspan font-size="5.6" dy="-3" dx="0.4">&#8722;17</tspan></text>
<line x1="383.50" y1="397.40" x2="387.80" y2="397.40" stroke="#5c5c5c" stroke-width="0.9"/>
<text x="381.5" y="399.6" font-size="6.6" text-anchor="end" font-family="Liberation Mono" font-weight="bold">1O<tspan font-size="5.6" dy="-3" dx="0.4">&#8722;18</tspan></text>
<line x1="383.50" y1="389.72" x2="385.70" y2="389.72" stroke="#5c5c5c" stroke-width="0.9"/>
<line x1="383.50" y1="385.23" x2="385.70" y2="385.23" stroke="#5c5c5c" stroke-width="0.9"/>
<line x1="383.50" y1="382.04" x2="385.70" y2="382.04" stroke="#5c5c5c" stroke-width="0.9"/>
<line x1="383.50" y1="379.57" x2="385.70" y2="379.57" stroke="#5c5c5c" stroke-width="0.9"/>
<line x1="383.50" y1="377.55" x2="385.70" y2="377.55" stroke="#5c5c5c" stroke-width="0.9"/>
<line x1="383.50" y1="375.84" x2="385.70" y2="375.84" stroke="#5c5c5c" stroke-width="0.9"/>
<line x1="383.50" y1="374.36" x2="385.70" y2="374.36" stroke="#5c5c5c" stroke-width="0.9"/>
<line x1="383.50" y1="373.06" x2="385.70" y2="373.06" stroke="#5c5c5c" stroke-width="0.9"/>
<line x1="383.50" y1="364.21" x2="385.70" y2="364.21" stroke="#5c5c5c" stroke-width="0.9"/>
<line x1="383.50" y1="359.72" x2="385.70" y2="359.72" stroke="#5c5c5c" stroke-width="0.9"/>
<line x1="383.50" y1="356.53" x2="385.70" y2="356.53" stroke="#5c5c5c" stroke-width="0.9"/>
<line x1="383.50" y1="354.06" x2="385.70" y2="354.06" stroke="#5c5c5c" stroke-width="0.9"/>
<line x1="383.50" y1="352.04" x2="385.70" y2="352.04" stroke="#5c5c5c" stroke-width="0.9"/>
<line x1="383.50" y1="350.33" x2="385.70" y2="350.33" stroke="#5c5c5c" stroke-width="0.9"/>
<line x1="383.50" y1="348.85" x2="385.70" y2="348.85" stroke="#5c5c5c" stroke-width="0.9"/>
<line x1="383.50" y1="347.54" x2="385.70" y2="347.54" stroke="#5c5c5c" stroke-width="0.9"/>
<line x1="383.50" y1="338.70" x2="385.70" y2="338.70" stroke="#5c5c5c" stroke-width="0.9"/>
<line x1="383.50" y1="334.21" x2="385.70" y2="334.21" stroke="#5c5c5c" stroke-width="0.9"/>
<line x1="383.50" y1="331.02" x2="385.70" y2="331.02" stroke="#5c5c5c" stroke-width="0.9"/>
<line x1="383.50" y1="328.55" x2="385.70" y2="328.55" stroke="#5c5c5c" stroke-width="0.9"/>
<line x1="383.50" y1="326.53" x2="385.70" y2="326.53" stroke="#5c5c5c" stroke-width="0.9"/>
<line x1="383.50" y1="324.82" x2="385.70" y2="324.82" stroke="#5c5c5c" stroke-width="0.9"/>
<line x1="383.50" y1="323.34" x2="385.70" y2="323.34" stroke="#5c5c5c" stroke-width="0.9"/>
<line x1="383.50" y1="322.03" x2="385.70" y2="322.03" stroke="#5c5c5c" stroke-width="0.9"/>
<line x1="383.50" y1="313.19" x2="385.70" y2="313.19" stroke="#5c5c5c" stroke-width="0.9"/>
<line x1="383.50" y1="308.69" x2="385.70" y2="308.69" stroke="#5c5c5c" stroke-width="0.9"/>
<line x1="383.50" y1="305.51" x2="385.70" y2="305.51" stroke="#5c5c5c" stroke-width="0.9"/>
<line x1="383.50" y1="303.03" x2="385.70" y2="303.03" stroke="#5c5c5c" stroke-width="0.9"/>
<line x1="383.50" y1="301.01" x2="385.70" y2="301.01" stroke="#5c5c5c" stroke-width="0.9"/>
<line x1="383.50" y1="299.31" x2="385.70" y2="299.31" stroke="#5c5c5c" stroke-width="0.9"/>
<line x1="383.50" y1="297.83" x2="385.70" y2="297.83" stroke="#5c5c5c" stroke-width="0.9"/>
<line x1="383.50" y1="296.52" x2="385.70" y2="296.52" stroke="#5c5c5c" stroke-width="0.9"/>
<line x1="383.50" y1="287.67" x2="385.70" y2="287.67" stroke="#5c5c5c" stroke-width="0.9"/>
<line x1="383.50" y1="283.18" x2="385.70" y2="283.18" stroke="#5c5c5c" stroke-width="0.9"/>
<line x1="383.50" y1="280.00" x2="385.70" y2="280.00" stroke="#5c5c5c" stroke-width="0.9"/>
<line x1="383.50" y1="277.52" x2="385.70" y2="277.52" stroke="#5c5c5c" stroke-width="0.9"/>
<line x1="383.50" y1="275.50" x2="385.70" y2="275.50" stroke="#5c5c5c" stroke-width="0.9"/>
<line x1="383.50" y1="273.79" x2="385.70" y2="273.79" stroke="#5c5c5c" stroke-width="0.9"/>
<line x1="383.50" y1="272.32" x2="385.70" y2="272.32" stroke="#5c5c5c" stroke-width="0.9"/>
<line x1="383.50" y1="271.01" x2="385.70" y2="271.01" stroke="#5c5c5c" stroke-width="0.9"/>
<line x1="383.50" y1="262.16" x2="385.70" y2="262.16" stroke="#5c5c5c" stroke-width="0.9"/>
<line x1="383.50" y1="257.67" x2="385.70" y2="257.67" stroke="#5c5c5c" stroke-width="0.9"/>
<line x1="383.50" y1="254.48" x2="385.70" y2="254.48" stroke="#5c5c5c" stroke-width="0.9"/>
<line x1="383.50" y1="252.01" x2="385.70" y2="252.01" stroke="#5c5c5c" stroke-width="0.9"/>
<line x1="383.50" y1="249.99" x2="385.70" y2="249.99" stroke="#5c5c5c" stroke-width="0.9"/>
<line x1="383.50" y1="248.28" x2="385.70" y2="248.28" stroke="#5c5c5c" stroke-width="0.9"/>
<line x1="383.50" y1="246.80" x2="385.70" y2="246.80" stroke="#5c5c5c" stroke-width="0.9"/>
<line x1="383.50" y1="245.50" x2="385.70" y2="245.50" stroke="#5c5c5c" stroke-width="0.9"/>
<line x1="383.50" y1="236.65" x2="385.70" y2="236.65" stroke="#5c5c5c" stroke-width="0.9"/>
<line x1="383.50" y1="232.16" x2="385.70" y2="232.16" stroke="#5c5c5c" stroke-width="0.9"/>
<line x1="383.50" y1="228.97" x2="385.70" y2="228.97" stroke="#5c5c5c" stroke-width="0.9"/>
<line x1="424.64" y1="397.40" x2="424.64" y2="393.10" stroke="#5c5c5c" stroke-width="0.9"/>
<line x1="503.33" y1="397.40" x2="503.33" y2="393.10" stroke="#5c5c5c" stroke-width="0.9"/>
<line x1="582.01" y1="397.40" x2="582.01" y2="393.10" stroke="#5c5c5c" stroke-width="0.9"/>
<line x1="393.33" y1="397.40" x2="393.33" y2="395.20" stroke="#5c5c5c" stroke-width="0.9"/>
<line x1="400.96" y1="397.40" x2="400.96" y2="395.20" stroke="#5c5c5c" stroke-width="0.9"/>
<line x1="407.19" y1="397.40" x2="407.19" y2="395.20" stroke="#5c5c5c" stroke-width="0.9"/>
<line x1="412.45" y1="397.40" x2="412.45" y2="395.20" stroke="#5c5c5c" stroke-width="0.9"/>
<line x1="417.02" y1="397.40" x2="417.02" y2="395.20" stroke="#5c5c5c" stroke-width="0.9"/>
<line x1="421.04" y1="397.40" x2="421.04" y2="395.20" stroke="#5c5c5c" stroke-width="0.9"/>
<line x1="448.33" y1="397.40" x2="448.33" y2="395.20" stroke="#5c5c5c" stroke-width="0.9"/>
<line x1="462.19" y1="397.40" x2="462.19" y2="395.20" stroke="#5c5c5c" stroke-width="0.9"/>
<line x1="472.02" y1="397.40" x2="472.02" y2="395.20" stroke="#5c5c5c" stroke-width="0.9"/>
<line x1="479.64" y1="397.40" x2="479.64" y2="395.20" stroke="#5c5c5c" stroke-width="0.9"/>
<line x1="485.87" y1="397.40" x2="485.87" y2="395.20" stroke="#5c5c5c" stroke-width="0.9"/>
<line x1="491.14" y1="397.40" x2="491.14" y2="395.20" stroke="#5c5c5c" stroke-width="0.9"/>
<line x1="495.70" y1="397.40" x2="495.70" y2="395.20" stroke="#5c5c5c" stroke-width="0.9"/>
<line x1="499.73" y1="397.40" x2="499.73" y2="395.20" stroke="#5c5c5c" stroke-width="0.9"/>
<line x1="527.01" y1="397.40" x2="527.01" y2="395.20" stroke="#5c5c5c" stroke-width="0.9"/>
<line x1="540.87" y1="397.40" x2="540.87" y2="395.20" stroke="#5c5c5c" stroke-width="0.9"/>
<line x1="550.70" y1="397.40" x2="550.70" y2="395.20" stroke="#5c5c5c" stroke-width="0.9"/>
<line x1="558.33" y1="397.40" x2="558.33" y2="395.20" stroke="#5c5c5c" stroke-width="0.9"/>
<line x1="564.56" y1="397.40" x2="564.56" y2="395.20" stroke="#5c5c5c" stroke-width="0.9"/>
<line x1="569.82" y1="397.40" x2="569.82" y2="395.20" stroke="#5c5c5c" stroke-width="0.9"/>
<line x1="574.39" y1="397.40" x2="574.39" y2="395.20" stroke="#5c5c5c" stroke-width="0.9"/>
<line x1="578.41" y1="397.40" x2="578.41" y2="395.20" stroke="#5c5c5c" stroke-width="0.9"/>
<text x="424.6" y="403.5" font-size="6.3" text-anchor="middle" font-family="Liberation Mono" font-weight="bold">O.1</text>
<text x="503.3" y="403.5" font-size="6.3" text-anchor="middle" font-family="Liberation Mono" font-weight="bold">1</text>
<text x="582.0" y="403.5" font-size="6.3" text-anchor="middle" font-family="Liberation Mono" font-weight="bold">1O</text>
<polygon points="384.4,447.4 598.7,447.4 598.7,615.2 384.4,615.2" fill="#f0f0f0"/>
<text x="377.7" y="439.2" font-size="5.5" text-anchor="middle" font-weight="bold" font-family="Liberation Mono" >f</text>
<path d="M404.00,447.40 C404.98,448.55 407.63,452.45 409.90,454.30 C412.17,456.15 414.63,457.23 417.60,458.50 C420.57,459.77 424.03,460.98 427.70,461.90 C431.37,462.82 434.80,463.00 439.60,464.00 C444.40,465.00 450.30,466.83 456.50,467.90 C462.70,468.97 471.15,470.03 476.80,470.40 C482.45,470.77 485.95,470.30 490.40,470.10 C494.85,469.90 499.33,469.72 503.50,469.20 C507.67,468.68 509.18,467.50 515.40,467.00 C521.62,466.50 532.33,466.33 540.80,466.20 C549.27,466.07 559.15,466.63 566.20,466.20 C573.25,465.77 578.45,465.02 583.10,463.60 C587.75,462.18 591.98,460.40 594.10,457.70 C596.22,455.00 595.52,449.12 595.80,447.40" fill="none" stroke="#e888d8" stroke-width="0.9" stroke-linecap="butt" stroke-linejoin="round"/>
<path d="M384.40,459.40 C385.70,460.38 388.93,463.05 392.20,465.30 C395.47,467.55 399.77,470.50 404.00,472.90 C408.23,475.30 412.52,477.85 417.60,479.70 C422.68,481.55 428.87,482.92 434.50,484.00 C440.13,485.08 447.17,485.98 451.40,486.20 C455.63,486.42 455.67,484.97 459.90,485.30 C464.13,485.63 471.15,487.23 476.80,488.20 C482.45,489.17 487.37,490.73 493.80,491.10 C500.23,491.47 507.57,490.60 515.40,490.40 C523.23,490.20 526.92,490.07 540.80,489.90 C554.68,489.73 589.05,489.48 598.70,489.40" fill="none" stroke="#a070d8" stroke-width="0.9" stroke-linecap="butt" stroke-linejoin="round"/>
<path d="M384.40,478.40 C385.70,479.10 389.78,480.12 392.20,482.60 C394.62,485.08 396.37,489.68 398.90,493.30 C401.43,496.92 404.57,501.07 407.40,504.30 C410.23,507.53 412.23,509.60 415.90,512.70 C419.57,515.80 425.73,520.35 429.40,522.90 C433.07,525.45 434.52,526.95 437.90,528.00 C441.28,529.05 446.03,529.20 449.70,529.20 C453.37,529.20 455.67,529.47 459.90,528.00 C464.13,526.53 470.58,523.37 475.10,520.40 C479.62,517.43 483.18,513.45 487.00,510.20 C490.82,506.95 494.68,503.87 498.00,500.90 C501.32,497.93 502.87,495.73 506.90,492.40 C510.93,489.07 517.12,483.87 522.20,480.90 C527.28,477.93 531.48,476.63 537.40,474.60 C543.32,472.57 551.48,470.18 557.70,468.70 C563.92,467.22 569.05,466.40 574.70,465.70 C580.35,465.00 587.60,464.70 591.60,464.50 C595.60,464.30 597.52,464.50 598.70,464.50" fill="none" stroke="#ff2020" stroke-width="1.0" stroke-linecap="butt" stroke-linejoin="round"/>
<polyline points="384.4,498.3 390.5,499.5 400.6,503.4 407.4,504.3 417.6,503.4 427.7,502.2 432.8,504.3 443.0,517.8 451.4,522.6 461.6,519.5 473.4,516.1 481.9,514.4 490.4,510.2 498.0,506.0 503.5,504.3 510.3,506.8 516.2,512.4 527.3,512.4 542.5,501.7 551.0,501.2 561.1,497.2 567.1,497.5 576.4,488.2 583.5,481.4" fill="none" stroke="#55b055" stroke-width="0.9" stroke-linecap="butt" stroke-linejoin="round"/>
<path d="M384.40,559.20 C385.43,560.47 388.67,564.83 390.60,566.80 C392.53,568.77 393.20,569.53 396.00,571.00 C398.80,572.47 403.23,573.37 407.40,575.60 C411.57,577.83 416.77,582.48 421.00,584.40 C425.23,586.32 428.57,586.45 432.80,587.10 C437.03,587.75 442.17,588.18 446.40,588.30 C450.63,588.42 456.23,587.88 458.20,587.80" fill="none" stroke="#ff2020" stroke-width="1.7" stroke-dasharray="1.4,1.7" stroke-linecap="butt" stroke-linejoin="round"/>
<path d="M384.40,568.00 C387.32,568.80 397.20,570.95 401.90,572.80 C406.60,574.65 408.87,576.67 412.60,579.10 C416.33,581.53 420.93,585.73 424.30,587.40 C427.67,589.07 429.12,588.82 432.80,589.10 C436.48,589.38 442.17,589.23 446.40,589.10 C450.63,588.97 453.42,588.58 458.20,588.30 C462.98,588.02 469.80,587.48 475.10,587.40 C480.40,587.32 484.70,587.52 490.00,587.80 C495.30,588.08 501.25,588.73 506.90,589.10 C512.55,589.47 518.25,589.92 523.90,590.00 C529.55,590.08 534.60,589.80 540.80,589.60 C547.00,589.40 554.60,589.22 561.10,588.80 C567.60,588.38 573.53,587.67 579.80,587.10 C586.07,586.53 595.55,585.68 598.70,585.40" fill="none" stroke="#ff2020" stroke-width="1.8" stroke-dasharray="4.4,2.4" stroke-linecap="butt" stroke-linejoin="round"/>
<text x="429.5" y="606.5" font-size="6" text-anchor="middle" font-weight="bold" font-family="Liberation Mono" >&#8595;</text>
<text x="433.7" y="606.6" font-size="5.8" text-anchor="start" font-weight="bold" font-family="Liberation Mono" >NuSTAR</text>
<rect x="384.40" y="447.40" width="214.30" height="167.80" fill="none" stroke="#5c5c5c" stroke-width="1.1"/>
<line x1="384.40" y1="447.40" x2="388.70" y2="447.40" stroke="#5c5c5c" stroke-width="0.9"/>
<text x="381.8" y="449.6" font-size="6.6" text-anchor="end" font-family="Liberation Mono" font-weight="bold">1O<tspan font-size="5.6" dy="-3" dx="0.4">&#8722;2</tspan></text>
<line x1="384.40" y1="498.23" x2="388.70" y2="498.23" stroke="#5c5c5c" stroke-width="0.9"/>
<text x="381.8" y="500.4" font-size="6.6" text-anchor="end" font-family="Liberation Mono" font-weight="bold">1O<tspan font-size="5.6" dy="-3" dx="0.4">&#8722;3</tspan></text>
<line x1="384.40" y1="549.07" x2="388.70" y2="549.07" stroke="#5c5c5c" stroke-width="0.9"/>
<text x="381.8" y="551.3" font-size="6.6" text-anchor="end" font-family="Liberation Mono" font-weight="bold">1O<tspan font-size="5.6" dy="-3" dx="0.4">&#8722;4</tspan></text>
<line x1="384.40" y1="599.90" x2="388.70" y2="599.90" stroke="#5c5c5c" stroke-width="0.9"/>
<text x="381.8" y="602.1" font-size="6.6" text-anchor="end" font-family="Liberation Mono" font-weight="bold">1O<tspan font-size="5.6" dy="-3" dx="0.4">&#8722;5</tspan></text>
<line x1="384.40" y1="611.18" x2="386.60" y2="611.18" stroke="#5c5c5c" stroke-width="0.9"/>
<line x1="384.40" y1="607.77" x2="386.60" y2="607.77" stroke="#5c5c5c" stroke-width="0.9"/>
<line x1="384.40" y1="604.82" x2="386.60" y2="604.82" stroke="#5c5c5c" stroke-width="0.9"/>
<line x1="384.40" y1="602.22" x2="386.60" y2="602.22" stroke="#5c5c5c" stroke-width="0.9"/>
<line x1="384.40" y1="584.60" x2="386.60" y2="584.60" stroke="#5c5c5c" stroke-width="0.9"/>
<line x1="384.40" y1="575.64" x2="386.60" y2="575.64" stroke="#5c5c5c" stroke-width="0.9"/>
<line x1="384.40" y1="569.29" x2="386.60" y2="569.29" stroke="#5c5c5c" stroke-width="0.9"/>
<line x1="384.40" y1="564.37" x2="386.60" y2="564.37" stroke="#5c5c5c" stroke-width="0.9"/>
<line x1="384.40" y1="560.34" x2="386.60" y2="560.34" stroke="#5c5c5c" stroke-width="0.9"/>
<line x1="384.40" y1="556.94" x2="386.60" y2="556.94" stroke="#5c5c5c" stroke-width="0.9"/>
<line x1="384.40" y1="553.99" x2="386.60" y2="553.99" stroke="#5c5c5c" stroke-width="0.9"/>
<line x1="384.40" y1="551.39" x2="386.60" y2="551.39" stroke="#5c5c5c" stroke-width="0.9"/>
<line x1="384.40" y1="533.76" x2="386.60" y2="533.76" stroke="#5c5c5c" stroke-width="0.9"/>
<line x1="384.40" y1="524.81" x2="386.60" y2="524.81" stroke="#5c5c5c" stroke-width="0.9"/>
<line x1="384.40" y1="518.46" x2="386.60" y2="518.46" stroke="#5c5c5c" stroke-width="0.9"/>
<line x1="384.40" y1="513.53" x2="386.60" y2="513.53" stroke="#5c5c5c" stroke-width="0.9"/>
<line x1="384.40" y1="509.51" x2="386.60" y2="509.51" stroke="#5c5c5c" stroke-width="0.9"/>
<line x1="384.40" y1="506.11" x2="386.60" y2="506.11" stroke="#5c5c5c" stroke-width="0.9"/>
<line x1="384.40" y1="503.16" x2="386.60" y2="503.16" stroke="#5c5c5c" stroke-width="0.9"/>
<line x1="384.40" y1="500.56" x2="386.60" y2="500.56" stroke="#5c5c5c" stroke-width="0.9"/>
<line x1="384.40" y1="482.93" x2="386.60" y2="482.93" stroke="#5c5c5c" stroke-width="0.9"/>
<line x1="384.40" y1="473.98" x2="386.60" y2="473.98" stroke="#5c5c5c" stroke-width="0.9"/>
<line x1="384.40" y1="467.63" x2="386.60" y2="467.63" stroke="#5c5c5c" stroke-width="0.9"/>
<line x1="384.40" y1="462.70" x2="386.60" y2="462.70" stroke="#5c5c5c" stroke-width="0.9"/>
<line x1="384.40" y1="458.68" x2="386.60" y2="458.68" stroke="#5c5c5c" stroke-width="0.9"/>
<line x1="384.40" y1="455.27" x2="386.60" y2="455.27" stroke="#5c5c5c" stroke-width="0.9"/>
<line x1="384.40" y1="452.33" x2="386.60" y2="452.33" stroke="#5c5c5c" stroke-width="0.9"/>
<line x1="384.40" y1="449.73" x2="386.60" y2="449.73" stroke="#5c5c5c" stroke-width="0.9"/>
<line x1="407.36" y1="615.20" x2="407.36" y2="610.90" stroke="#5c5c5c" stroke-width="0.9"/>
<line x1="445.63" y1="615.20" x2="445.63" y2="610.90" stroke="#5c5c5c" stroke-width="0.9"/>
<line x1="483.90" y1="615.20" x2="483.90" y2="610.90" stroke="#5c5c5c" stroke-width="0.9"/>
<line x1="522.16" y1="615.20" x2="522.16" y2="610.90" stroke="#5c5c5c" stroke-width="0.9"/>
<line x1="560.43" y1="615.20" x2="560.43" y2="610.90" stroke="#5c5c5c" stroke-width="0.9"/>
<line x1="598.70" y1="615.20" x2="598.70" y2="610.90" stroke="#5c5c5c" stroke-width="0.9"/>
<line x1="392.05" y1="615.20" x2="392.05" y2="613.00" stroke="#5c5c5c" stroke-width="0.9"/>
<line x1="399.71" y1="615.20" x2="399.71" y2="613.00" stroke="#5c5c5c" stroke-width="0.9"/>
<line x1="415.01" y1="615.20" x2="415.01" y2="613.00" stroke="#5c5c5c" stroke-width="0.9"/>
<line x1="422.67" y1="615.20" x2="422.67" y2="613.00" stroke="#5c5c5c" stroke-width="0.9"/>
<line x1="430.32" y1="615.20" x2="430.32" y2="613.00" stroke="#5c5c5c" stroke-width="0.9"/>
<line x1="437.98" y1="615.20" x2="437.98" y2="613.00" stroke="#5c5c5c" stroke-width="0.9"/>
<line x1="453.28" y1="615.20" x2="453.28" y2="613.00" stroke="#5c5c5c" stroke-width="0.9"/>
<line x1="460.94" y1="615.20" x2="460.94" y2="613.00" stroke="#5c5c5c" stroke-width="0.9"/>
<line x1="468.59" y1="615.20" x2="468.59" y2="613.00" stroke="#5c5c5c" stroke-width="0.9"/>
<line x1="476.24" y1="615.20" x2="476.24" y2="613.00" stroke="#5c5c5c" stroke-width="0.9"/>
<line x1="491.55" y1="615.20" x2="491.55" y2="613.00" stroke="#5c5c5c" stroke-width="0.9"/>
<line x1="499.20" y1="615.20" x2="499.20" y2="613.00" stroke="#5c5c5c" stroke-width="0.9"/>
<line x1="506.86" y1="615.20" x2="506.86" y2="613.00" stroke="#5c5c5c" stroke-width="0.9"/>
<line x1="514.51" y1="615.20" x2="514.51" y2="613.00" stroke="#5c5c5c" stroke-width="0.9"/>
<line x1="529.82" y1="615.20" x2="529.82" y2="613.00" stroke="#5c5c5c" stroke-width="0.9"/>
<line x1="537.47" y1="615.20" x2="537.47" y2="613.00" stroke="#5c5c5c" stroke-width="0.9"/>
<line x1="545.12" y1="615.20" x2="545.12" y2="613.00" stroke="#5c5c5c" stroke-width="0.9"/>
<line x1="552.78" y1="615.20" x2="552.78" y2="613.00" stroke="#5c5c5c" stroke-width="0.9"/>
<line x1="568.09" y1="615.20" x2="568.09" y2="613.00" stroke="#5c5c5c" stroke-width="0.9"/>
<line x1="575.74" y1="615.20" x2="575.74" y2="613.00" stroke="#5c5c5c" stroke-width="0.9"/>
<line x1="583.39" y1="615.20" x2="583.39" y2="613.00" stroke="#5c5c5c" stroke-width="0.9"/>
<line x1="591.05" y1="615.20" x2="591.05" y2="613.00" stroke="#5c5c5c" stroke-width="0.9"/>
<text x="407.4" y="621.3" font-size="6.3" text-anchor="middle" font-family="Liberation Mono" font-weight="bold">1O</text>
<text x="445.6" y="621.3" font-size="6.3" text-anchor="middle" font-family="Liberation Mono" font-weight="bold">15</text>
<text x="483.9" y="621.3" font-size="6.3" text-anchor="middle" font-family="Liberation Mono" font-weight="bold">2O</text>
<text x="522.2" y="621.3" font-size="6.3" text-anchor="middle" font-family="Liberation Mono" font-weight="bold">25</text>
<text x="560.4" y="621.3" font-size="6.3" text-anchor="middle" font-family="Liberation Mono" font-weight="bold">3O</text>
<text x="598.7" y="621.3" font-size="6.3" text-anchor="middle" font-family="Liberation Mono" font-weight="bold">35</text>
<polyline points="251.1,20.1 265.9,20.1" fill="none" stroke="#ff2020" stroke-width="1.9" stroke-dasharray="5.6,2.2,5.4,20" stroke-linecap="butt" stroke-linejoin="round"/>
<text x="270.0" y="18.7" font-size="5.7" font-weight="bold" font-family="Liberation Mono" fill="#2a2a2a">DS-20k - 1 year</text>
<text x="270.0" y="24.4" font-size="5.7" font-weight="bold" font-family="Liberation Mono" fill="#2a2a2a">QF - N<tspan font-size="3.6" dy="1">e</tspan><tspan dy="-1">- &#8805;2</tspan></text>
<polyline points="251.1,34.5 265.9,34.5" fill="none" stroke="#ff2020" stroke-width="1.8" stroke-dasharray="4.4,2.5,1.5,2,4.4,20" stroke-linecap="butt" stroke-linejoin="round"/>
<text x="270.0" y="33.7" font-size="5.7" font-weight="bold" font-family="Liberation Mono" fill="#2a2a2a">DS-20k - 1 year</text>
<text x="270.0" y="39.2" font-size="5.7" font-weight="bold" font-family="Liberation Mono" fill="#2a2a2a">ER Migdal - N<tspan font-size="3.6" dy="1">e</tspan><tspan dy="-1">- &#8805;2</tspan></text>
<polyline points="251.1,49.8 265.9,49.8" fill="none" stroke="#ff2020" stroke-width="1.9" stroke-dasharray="1.8,1.4" stroke-linecap="butt" stroke-linejoin="round"/>
<text x="270.0" y="48.5" font-size="5.7" font-weight="bold" font-family="Liberation Mono" fill="#2a2a2a">DS-20k - 1 year</text>
<text x="270.0" y="54.1" font-size="5.7" font-weight="bold" font-family="Liberation Mono" fill="#2a2a2a">QF - N<tspan font-size="3.6" dy="1">e</tspan><tspan dy="-1">- &#8805;4</tspan></text>
<polyline points="251.1,64.7 265.9,64.7" fill="none" stroke="#ff2020" stroke-width="1.8" stroke-dasharray="5.5,2.1,1.6,1.6,2.1,20" stroke-linecap="butt" stroke-linejoin="round"/>
<text x="270.0" y="63.4" font-size="5.7" font-weight="bold" font-family="Liberation Mono" fill="#2a2a2a">DS-20k - 1 year</text>
<text x="270.0" y="68.8" font-size="5.7" font-weight="bold" font-family="Liberation Mono" fill="#2a2a2a">ER Migdal - N<tspan font-size="3.6" dy="1">e</tspan><tspan dy="-1">- &#8805;4</tspan></text>
<polyline points="251.1,76.3 265.9,76.3" fill="none" stroke="#ff4040" stroke-width="1.0" stroke-linecap="butt" stroke-linejoin="round"/>
<text x="270.0" y="78.2" font-size="5.7" font-weight="bold" font-family="Liberation Mono" fill="#2a2a2a">DS-50 - QF - 2023</text>
<polyline points="251.1,85.4 265.9,85.4" fill="none" stroke="#ffb050" stroke-width="1.0" stroke-linecap="butt" stroke-linejoin="round"/>
<text x="270.0" y="87.3" font-size="5.7" font-weight="bold" font-family="Liberation Mono" fill="#2a2a2a">LZ 2023</text>
<polyline points="251.1,94.5 265.9,94.5" fill="none" stroke="#ff40ff" stroke-width="1.0" stroke-linecap="butt" stroke-linejoin="round"/>
<text x="270.0" y="96.4" font-size="5.7" font-weight="bold" font-family="Liberation Mono" fill="#2a2a2a">PandaX-4T 2023</text>
<polyline points="251.1,103.4 265.9,103.4" fill="none" stroke="#50f050" stroke-width="1.0" stroke-linecap="butt" stroke-linejoin="round"/>
<text x="270.0" y="105.3" font-size="5.7" font-weight="bold" font-family="Liberation Mono" fill="#2a2a2a">XENONnT 2023</text>
<polyline points="251.1,112.5 265.9,112.5" fill="none" stroke="#ffb8ff" stroke-width="1.0" stroke-linecap="butt" stroke-linejoin="round"/>
<text x="270.0" y="114.4" font-size="5.7" font-weight="bold" font-family="Liberation Mono" fill="#2a2a2a">PandaX-4T 2023</text>
<polyline points="251.1,121.5 265.9,121.5" fill="none" stroke="#70b070" stroke-width="1.0" stroke-linecap="butt" stroke-linejoin="round"/>
<text x="270.0" y="123.4" font-size="5.7" font-weight="bold" font-family="Liberation Mono" fill="#2a2a2a">XENON1T 2021</text>
<polyline points="251.1,130.7 265.9,130.7" fill="none" stroke="#90d8d8" stroke-width="1.0" stroke-linecap="butt" stroke-linejoin="round"/>
<text x="270.0" y="132.6" font-size="5.7" font-weight="bold" font-family="Liberation Mono" fill="#2a2a2a">Cresst-III 2019</text>
<polyline points="251.1,139.8 265.9,139.8" fill="none" stroke="#b0b0b0" stroke-width="1.0" stroke-linecap="butt" stroke-linejoin="round"/>
<text x="270.0" y="141.7" font-size="5.7" font-weight="bold" font-family="Liberation Mono" fill="#2a2a2a">XENON1T MR 2019</text>
<rect x="251.1" y="146.7" width="14.8" height="4.8" fill="#eeeeee"/>
<text x="270.0" y="151.0" font-size="5.7" font-weight="bold" font-family="Liberation Mono" fill="#2a2a2a">Excluded region</text>
<polyline points="614.9,15.1 629.7,15.1" fill="none" stroke="#ff2020" stroke-width="1.9" stroke-dasharray="5.6,2.2,5.4,20" stroke-linecap="butt" stroke-linejoin="round"/>
<text x="633.9" y="13.8" font-size="5.7" font-weight="bold" font-family="Liberation Mono" fill="#2a2a2a">DS-20k - 1 year</text>
<text x="633.9" y="19.3" font-size="5.7" font-weight="bold" font-family="Liberation Mono" fill="#2a2a2a">N<tspan font-size="3.6" dy="1">e</tspan><tspan dy="-1">- &#8805;2</tspan></text>
<polyline points="614.9,29.8 629.7,29.8" fill="none" stroke="#ff2020" stroke-width="1.9" stroke-dasharray="1.8,1.4" stroke-linecap="butt" stroke-linejoin="round"/>
<text x="633.9" y="28.6" font-size="5.7" font-weight="bold" font-family="Liberation Mono" fill="#2a2a2a">DS-20k - 1 year</text>
<text x="633.9" y="34.1" font-size="5.7" font-weight="bold" font-family="Liberation Mono" fill="#2a2a2a">N<tspan font-size="3.6" dy="1">e</tspan><tspan dy="-1">- &#8805;4</tspan></text>
<polyline points="614.9,41.6 629.7,41.6" fill="none" stroke="#ff4040" stroke-width="1.0" stroke-linecap="butt" stroke-linejoin="round"/>
<text x="633.9" y="43.5" font-size="5.7" font-weight="bold" font-family="Liberation Mono" fill="#2a2a2a">DS-50 2023</text>
<polyline points="614.9,50.6 629.7,50.6" fill="none" stroke="#ffb060" stroke-width="1.0" stroke-linecap="butt" stroke-linejoin="round"/>
<text x="633.9" y="52.5" font-size="5.7" font-weight="bold" font-family="Liberation Mono" fill="#2a2a2a">LZ 2023</text>
<polyline points="614.9,59.6 629.7,59.6" fill="none" stroke="#50f050" stroke-width="1.0" stroke-linecap="butt" stroke-linejoin="round"/>
<text x="633.9" y="61.5" font-size="5.7" font-weight="bold" font-family="Liberation Mono" fill="#2a2a2a">XENONnT 2023</text>
<polyline points="614.9,68.9 629.7,68.9" fill="none" stroke="#9cc8ff" stroke-width="1.0" stroke-linecap="butt" stroke-linejoin="round"/>
<text x="633.9" y="70.8" font-size="5.7" font-weight="bold" font-family="Liberation Mono" fill="#2a2a2a">SuperCDMS 2020</text>
<polyline points="614.9,78.0 629.7,78.0" fill="none" stroke="#a0a0a0" stroke-width="1.0" stroke-linecap="butt" stroke-linejoin="round"/>
<text x="633.9" y="79.9" font-size="5.7" font-weight="bold" font-family="Liberation Mono" fill="#2a2a2a">XENON1T 2020</text>
<polyline points="614.9,87.2 629.7,87.2" fill="none" stroke="#70b070" stroke-width="1.0" stroke-linecap="butt" stroke-linejoin="round"/>
<text x="633.9" y="89.1" font-size="5.7" font-weight="bold" font-family="Liberation Mono" fill="#2a2a2a">XENON1T 2019</text>
<polyline points="614.9,96.4 629.7,96.4" fill="none" stroke="#5050f0" stroke-width="1.0" stroke-linecap="butt" stroke-linejoin="round"/>
<text x="633.9" y="98.3" font-size="5.7" font-weight="bold" font-family="Liberation Mono" fill="#2a2a2a">PandaX-II 2017</text>
<polyline points="614.9,105.5 629.7,105.5" fill="none" stroke="#e888d8" stroke-width="1.0" stroke-linecap="butt" stroke-linejoin="round"/>
<text x="633.9" y="107.4" font-size="5.7" font-weight="bold" font-family="Liberation Mono" fill="#2a2a2a">X-ray &amp; &#947;-ray</text>
<rect x="614.9" y="112.3" width="14.8" height="4.8" fill="#eeeeee"/>
<text x="633.9" y="116.6" font-size="5.7" font-weight="bold" font-family="Liberation Mono" fill="#2a2a2a">Excluded region</text>
<polyline points="261.8,238.0 276.7,238.0" fill="none" stroke="#ff2020" stroke-width="1.9" stroke-dasharray="5.6,2.2,5.4,20" stroke-linecap="butt" stroke-linejoin="round"/>
<text x="280.8" y="237.0" font-size="5.7" font-weight="bold" font-family="Liberation Mono" fill="#2a2a2a">DS-20k - 1 year</text>
<text x="280.8" y="242.9" font-size="5.7" font-weight="bold" font-family="Liberation Mono" fill="#2a2a2a">N<tspan font-size="3.6" dy="1">e</tspan><tspan dy="-1">- &#8805;2</tspan></text>
<polyline points="261.8,253.3 276.7,253.3" fill="none" stroke="#ff2020" stroke-width="1.9" stroke-dasharray="1.8,1.4" stroke-linecap="butt" stroke-linejoin="round"/>
<text x="280.8" y="252.2" font-size="5.7" font-weight="bold" font-family="Liberation Mono" fill="#2a2a2a">DS-20k - 1 year</text>
<text x="280.8" y="257.6" font-size="5.7" font-weight="bold" font-family="Liberation Mono" fill="#2a2a2a">N<tspan font-size="3.6" dy="1">e</tspan><tspan dy="-1">- &#8805;4</tspan></text>
<polyline points="261.8,264.7 276.7,264.7" fill="none" stroke="#ff4040" stroke-width="1.0" stroke-linecap="butt" stroke-linejoin="round"/>
<text x="280.8" y="266.6" font-size="5.7" font-weight="bold" font-family="Liberation Mono" fill="#2a2a2a">DS-50 2023</text>
<polyline points="261.8,274.0 276.7,274.0" fill="none" stroke="#b898d8" stroke-width="1.0" stroke-linecap="butt" stroke-linejoin="round"/>
<text x="280.8" y="275.9" font-size="5.7" font-weight="bold" font-family="Liberation Mono" fill="#2a2a2a">DAMIC-M 2023</text>
<polyline points="261.8,283.1 276.7,283.1" fill="none" stroke="#ff50ff" stroke-width="1.0" stroke-linecap="butt" stroke-linejoin="round"/>
<text x="280.8" y="285.0" font-size="5.7" font-weight="bold" font-family="Liberation Mono" fill="#2a2a2a">PANDAX-4T 2023</text>
<polyline points="261.8,292.4 276.7,292.4" fill="none" stroke="#80d8ff" stroke-width="1.0" stroke-linecap="butt" stroke-linejoin="round"/>
<text x="280.8" y="294.3" font-size="5.7" font-weight="bold" font-family="Liberation Mono" fill="#2a2a2a">SENSEI 2023</text>
<polyline points="261.8,301.4 276.7,301.4" fill="none" stroke="#5898d8" stroke-width="1.0" stroke-linecap="butt" stroke-linejoin="round"/>
<text x="280.8" y="303.3" font-size="5.7" font-weight="bold" font-family="Liberation Mono" fill="#2a2a2a">SENSEI 2020</text>
<polyline points="261.8,310.4 276.7,310.4" fill="none" stroke="#505050" stroke-width="1.0" stroke-linecap="butt" stroke-linejoin="round"/>
<text x="280.8" y="312.3" font-size="5.7" font-weight="bold" font-family="Liberation Mono" fill="#2a2a2a">XENON1T 2019</text>
<polyline points="261.8,319.5 276.7,319.5" fill="none" stroke="#909090" stroke-width="1.0" stroke-linecap="butt" stroke-linejoin="round"/>
<text x="280.8" y="321.4" font-size="5.7" font-weight="bold" font-family="Liberation Mono" fill="#2a2a2a">XENON10 2017</text>
<polyline points="261.8,328.7 276.7,328.7" fill="none" stroke="#d2d2d2" stroke-width="2.6" stroke-linecap="butt" stroke-linejoin="round"/>
<text x="280.8" y="330.6" font-size="5.7" font-weight="bold" font-family="Liberation Mono" fill="#2a2a2a">Freeze-out</text>
<rect x="261.8" y="335.3" width="14.9" height="4.8" fill="#eeeeee"/>
<text x="280.8" y="339.6" font-size="5.7" font-weight="bold" font-family="Liberation Mono" fill="#2a2a2a">Excluded region</text>
<polyline points="614.9,234.1 629.7,234.1" fill="none" stroke="#ff2020" stroke-width="1.9" stroke-dasharray="5.6,2.2,5.4,20" stroke-linecap="butt" stroke-linejoin="round"/>
<text x="633.9" y="233.0" font-size="5.7" font-weight="bold" font-family="Liberation Mono" fill="#2a2a2a">DS-20k - 1 year</text>
<text x="633.9" y="238.3" font-size="5.7" font-weight="bold" font-family="Liberation Mono" fill="#2a2a2a">N<tspan font-size="3.6" dy="1">e</tspan><tspan dy="-1">- &#8805;2</tspan></text>
<polyline points="614.9,249.2 629.7,249.2" fill="none" stroke="#ff2020" stroke-width="1.9" stroke-dasharray="1.8,1.4" stroke-linecap="butt" stroke-linejoin="round"/>
<text x="633.9" y="248.0" font-size="5.7" font-weight="bold" font-family="Liberation Mono" fill="#2a2a2a">DS-20k - 1 year</text>
<text x="633.9" y="253.2" font-size="5.7" font-weight="bold" font-family="Liberation Mono" fill="#2a2a2a">N<tspan font-size="3.6" dy="1">e</tspan><tspan dy="-1">- &#8805;4</tspan></text>
<polyline points="614.9,260.8 629.7,260.8" fill="none" stroke="#ff4040" stroke-width="1.0" stroke-linecap="butt" stroke-linejoin="round"/>
<text x="633.9" y="262.7" font-size="5.7" font-weight="bold" font-family="Liberation Mono" fill="#2a2a2a">DS-50 2023</text>
<polyline points="614.9,269.9 629.7,269.9" fill="none" stroke="#ffb060" stroke-width="1.0" stroke-linecap="butt" stroke-linejoin="round"/>
<text x="633.9" y="271.8" font-size="5.7" font-weight="bold" font-family="Liberation Mono" fill="#2a2a2a">LZ 2023</text>
<polyline points="614.9,279.0 629.7,279.0" fill="none" stroke="#50f050" stroke-width="1.0" stroke-linecap="butt" stroke-linejoin="round"/>
<text x="633.9" y="280.9" font-size="5.7" font-weight="bold" font-family="Liberation Mono" fill="#2a2a2a">XENONnT 2023</text>
<polyline points="614.9,287.9 629.7,287.9" fill="none" stroke="#9cc8ff" stroke-width="1.0" stroke-linecap="butt" stroke-linejoin="round"/>
<text x="633.9" y="289.8" font-size="5.7" font-weight="bold" font-family="Liberation Mono" fill="#2a2a2a">SuperCDMS 2020</text>
<polyline points="614.9,297.1 629.7,297.1" fill="none" stroke="#a0a0a0" stroke-width="1.0" stroke-linecap="butt" stroke-linejoin="round"/>
<text x="633.9" y="299.0" font-size="5.7" font-weight="bold" font-family="Liberation Mono" fill="#2a2a2a">XENON1T 2020</text>
<polyline points="614.9,306.2 629.7,306.2" fill="none" stroke="#70b070" stroke-width="1.0" stroke-linecap="butt" stroke-linejoin="round"/>
<text x="633.9" y="308.1" font-size="5.7" font-weight="bold" font-family="Liberation Mono" fill="#2a2a2a">XENON1T 2019</text>
<polyline points="614.9,315.3 629.7,315.3" fill="none" stroke="#a8a8a8" stroke-width="1.0" stroke-linecap="butt" stroke-linejoin="round"/>
<text x="633.9" y="317.2" font-size="5.7" font-weight="bold" font-family="Liberation Mono" fill="#2a2a2a">XENON10 2017</text>
<polyline points="614.9,324.4 629.7,324.4" fill="none" stroke="#f8d840" stroke-width="1.0" stroke-linecap="butt" stroke-linejoin="round"/>
<text x="633.9" y="326.3" font-size="5.7" font-weight="bold" font-family="Liberation Mono" fill="#2a2a2a">Stellar bounds</text>
<rect x="614.9" y="331.2" width="14.8" height="4.8" fill="#eeeeee"/>
<text x="633.9" y="335.5" font-size="5.7" font-weight="bold" font-family="Liberation Mono" fill="#2a2a2a">Excluded region</text>
<polyline points="261.8,455.8 276.7,455.8" fill="none" stroke="#ff2020" stroke-width="1.9" stroke-dasharray="5.6,2.2,5.4,20" stroke-linecap="butt" stroke-linejoin="round"/>
<text x="280.8" y="454.5" font-size="5.7" font-weight="bold" font-family="Liberation Mono" fill="#2a2a2a">DS-20k - 1 year</text>
<text x="280.8" y="460.2" font-size="5.7" font-weight="bold" font-family="Liberation Mono" fill="#2a2a2a">N<tspan font-size="3.6" dy="1">e</tspan><tspan dy="-1">- &#8805;2</tspan></text>
<polyline points="261.8,470.4 276.7,470.4" fill="none" stroke="#ff2020" stroke-width="1.9" stroke-dasharray="1.8,1.4" stroke-linecap="butt" stroke-linejoin="round"/>
<text x="280.8" y="468.9" font-size="5.7" font-weight="bold" font-family="Liberation Mono" fill="#2a2a2a">DS-20k - 1 year</text>
<text x="280.8" y="474.7" font-size="5.7" font-weight="bold" font-family="Liberation Mono" fill="#2a2a2a">N<tspan font-size="3.6" dy="1">e</tspan><tspan dy="-1">- &#8805;4</tspan></text>
<polyline points="261.8,482.6 276.7,482.6" fill="none" stroke="#ff4040" stroke-width="1.0" stroke-linecap="butt" stroke-linejoin="round"/>
<text x="280.8" y="484.5" font-size="5.7" font-weight="bold" font-family="Liberation Mono" fill="#2a2a2a">DS-50 2023</text>
<polyline points="261.8,491.2 276.7,491.2" fill="none" stroke="#9060c0" stroke-width="1.0" stroke-linecap="butt" stroke-linejoin="round"/>
<text x="280.8" y="493.1" font-size="5.7" font-weight="bold" font-family="Liberation Mono" fill="#2a2a2a">DAMIC-M 2023</text>
<polyline points="261.8,500.4 276.7,500.4" fill="none" stroke="#ff40ff" stroke-width="1.0" stroke-linecap="butt" stroke-linejoin="round"/>
<text x="280.8" y="502.3" font-size="5.7" font-weight="bold" font-family="Liberation Mono" fill="#2a2a2a">PANDAX-4T 2023</text>
<polyline points="261.8,509.6 276.7,509.6" fill="none" stroke="#50d0ff" stroke-width="1.0" stroke-linecap="butt" stroke-linejoin="round"/>
<text x="280.8" y="511.5" font-size="5.7" font-weight="bold" font-family="Liberation Mono" fill="#2a2a2a">SENSEI 2023</text>
<polyline points="261.8,518.6 276.7,518.6" fill="none" stroke="#505050" stroke-width="1.0" stroke-linecap="butt" stroke-linejoin="round"/>
<text x="280.8" y="520.5" font-size="5.7" font-weight="bold" font-family="Liberation Mono" fill="#2a2a2a">XENON1T 2021</text>
<polyline points="261.8,527.5 276.7,527.5" fill="none" stroke="#5898d8" stroke-width="1.0" stroke-linecap="butt" stroke-linejoin="round"/>
<text x="280.8" y="529.4" font-size="5.7" font-weight="bold" font-family="Liberation Mono" fill="#2a2a2a">SENSEI 2020</text>
<polyline points="261.8,536.6 276.7,536.6" fill="none" stroke="#b0b0b0" stroke-width="1.0" stroke-linecap="butt" stroke-linejoin="round"/>
<text x="280.8" y="538.5" font-size="5.7" font-weight="bold" font-family="Liberation Mono" fill="#2a2a2a">XENON10 2017</text>
<polyline points="261.8,545.9 276.7,545.9" fill="none" stroke="#d2d2d2" stroke-width="2.6" stroke-linecap="butt" stroke-linejoin="round"/>
<text x="280.8" y="547.8" font-size="5.7" font-weight="bold" font-family="Liberation Mono" fill="#2a2a2a">Freeze-in</text>
<rect x="261.8" y="552.6" width="14.9" height="4.8" fill="#eeeeee"/>
<text x="280.8" y="556.9" font-size="5.7" font-weight="bold" font-family="Liberation Mono" fill="#2a2a2a">Excluded region</text>
<polyline points="612.8,454.9 627.0,454.9" fill="none" stroke="#ff2020" stroke-width="1.9" stroke-dasharray="5.6,2.2,5.4,20" stroke-linecap="butt" stroke-linejoin="round"/>
<text x="631.7" y="453.9" font-size="5.7" font-weight="bold" font-family="Liberation Mono" fill="#2a2a2a">DS-20k - 1 year</text>
<text x="631.7" y="459.1" font-size="5.7" font-weight="bold" font-family="Liberation Mono" fill="#2a2a2a">N<tspan font-size="3.6" dy="1">e</tspan><tspan dy="-1">- &#8805;2</tspan></text>
<polyline points="612.8,469.8 627.0,469.8" fill="none" stroke="#ff2020" stroke-width="1.9" stroke-dasharray="1.8,1.4" stroke-linecap="butt" stroke-linejoin="round"/>
<text x="631.7" y="468.5" font-size="5.7" font-weight="bold" font-family="Liberation Mono" fill="#2a2a2a">DS-20k - 1 year</text>
<text x="631.7" y="474.1" font-size="5.7" font-weight="bold" font-family="Liberation Mono" fill="#2a2a2a">N<tspan font-size="3.6" dy="1">e</tspan><tspan dy="-1">- &#8805;4</tspan></text>
<polyline points="612.8,481.6 627.0,481.6" fill="none" stroke="#ff4040" stroke-width="1.0" stroke-linecap="butt" stroke-linejoin="round"/>
<text x="631.7" y="483.5" font-size="5.7" font-weight="bold" font-family="Liberation Mono" fill="#2a2a2a">DS-50 2023</text>
<polyline points="612.8,491.8 627.0,491.8" fill="none" stroke="#90d090" stroke-width="1.0" stroke-linecap="butt" stroke-linejoin="round"/>
<text x="631.7" y="493.7" font-size="5.7" font-weight="bold" font-family="Liberation Mono" fill="#2a2a2a"><tspan font-size="4.8" dy="-1.9">63</tspan><tspan dy="1.9">Ni <tspan font-style="italic">&#946;</tspan> Spectrum</tspan></text>
<polyline points="612.8,502.4 627.0,502.4" fill="none" stroke="#f0a8e8" stroke-width="1.0" stroke-linecap="butt" stroke-linejoin="round"/>
<text x="631.7" y="504.3" font-size="5.7" font-weight="bold" font-family="Liberation Mono" fill="#2a2a2a"><tspan font-size="4.8" dy="-1.9">177</tspan><tspan dy="1.9">Lu <tspan font-style="italic">&#946;</tspan> Spectrum</tspan></text>
<polyline points="612.8,513.5 627.0,513.5" fill="none" stroke="#a080e0" stroke-width="1.0" stroke-linecap="butt" stroke-linejoin="round"/>
<text x="631.7" y="515.4" font-size="5.7" font-weight="bold" font-family="Liberation Mono" fill="#2a2a2a"><tspan font-size="4.8" dy="-1.9">35</tspan><tspan dy="1.9">S <tspan font-style="italic">&#946;</tspan> Spectrum</tspan></text>
<rect x="612.8" y="520.6" width="14.2" height="4.8" fill="#eeeeee"/>
<text x="631.7" y="524.9" font-size="5.7" font-weight="bold" font-family="Liberation Mono" fill="#2a2a2a">Excluded region</text>
<text transform="translate(9.0,178.5) rotate(-90)" font-size="8.7" font-weight="bold" font-family="Liberation Mono" textLength="164.4" lengthAdjust="spacingAndGlyphs">Dark Matter-Nucleon <tspan font-family="Liberation Serif" font-style="italic" font-weight="bold" font-size="13">&#963;</tspan><tspan font-size="6" dy="1.5" font-style="italic" font-family="Liberation Sans">SI</tspan><tspan dy="-1.5"><tspan font-family="Liberation Sans" font-weight="normal" font-size="10.5"> [cm<tspan font-size="7" dy="-3.8">2</tspan><tspan dy="3.8">]</tspan></tspan></tspan></text>
<text transform="translate(360.3,163.2) rotate(-90)" font-size="8.7" font-weight="bold" font-family="Liberation Mono" textLength="138.2" lengthAdjust="spacingAndGlyphs">Axion-Like Particles <tspan font-family="Liberation Serif" font-style="italic" font-weight="bold" font-size="12.5">g</tspan><tspan font-size="6" dy="1.5" font-style="italic" font-family="Liberation Sans">Ae</tspan></text>
<text transform="translate(8.4,389.1) rotate(-90)" font-size="8.7" font-weight="bold" font-family="Liberation Mono" textLength="153.1" lengthAdjust="spacingAndGlyphs">Light Dark Matter <tspan font-family="Liberation Serif" font-style="italic" font-weight="bold" font-size="13">&#963;&#773;</tspan><tspan font-size="7" dy="1.5" font-style="italic" font-family="Liberation Sans" font-weight="bold">e</tspan><tspan dy="-1.5"><tspan font-size="10.2"> [cm<tspan font-size="7" dy="-3.8">2</tspan><tspan dy="3.8">]</tspan></tspan></tspan></text>
<text transform="translate(358.3,350.3) rotate(-90)" font-size="8.7" font-weight="bold" font-family="Liberation Mono" textLength="74.9" lengthAdjust="spacingAndGlyphs">Dark Photon <tspan font-family="Liberation Serif" font-style="italic" font-weight="bold" font-size="12.5">&#954;</tspan></text>
<text transform="translate(8.4,606.0) rotate(-90)" font-size="8.7" font-weight="bold" font-family="Liberation Mono" textLength="150.4" lengthAdjust="spacingAndGlyphs">Light Dark Matter <tspan font-family="Liberation Serif" font-style="italic" font-weight="bold" font-size="13">&#963;&#773;</tspan><tspan font-size="7" dy="1.5" font-style="italic" font-family="Liberation Sans" font-weight="bold">e</tspan><tspan dy="-1.5"><tspan font-size="10.2"> [cm<tspan font-size="7" dy="-3.8">2</tspan><tspan dy="3.8">]</tspan></tspan></tspan></text>
<text transform="translate(361.5,603.6) rotate(-90)" font-size="8.7" font-weight="bold" font-family="Liberation Mono" textLength="138.1" lengthAdjust="spacingAndGlyphs">Sterile Neutrino |U<tspan font-size="6.5" dy="1.5">e4</tspan><tspan dy="-1.5">|</tspan><tspan font-size="6.5" dy="-3.5">2</tspan></text>
<text x="104.6" y="197.1" font-size="9.7" font-weight="bold" font-family="Liberation Mono" textLength="62.4" lengthAdjust="spacingAndGlyphs">m<tspan font-size="8" dy="2" font-style="italic" font-family="Liberation Serif">&#967;</tspan><tspan dy="-2">  [GeV/c</tspan><tspan font-size="6.5" dy="-3.5">2</tspan><tspan dy="3.5">]</tspan></text>
<text x="464.1" y="198.6" font-size="9.7" font-weight="bold" font-family="Liberation Mono" textLength="62.7" lengthAdjust="spacingAndGlyphs">m<tspan font-size="8" dy="2" font-style="italic" font-family="Liberation Serif">A</tspan><tspan dy="-2">  [keV/c</tspan><tspan font-size="6.5" dy="-3.5">2</tspan><tspan dy="3.5">]</tspan></text>
<text x="108.3" y="414.3" font-size="9.7" font-weight="bold" font-family="Liberation Mono" textLength="62.3" lengthAdjust="spacingAndGlyphs">m<tspan font-size="8" dy="2" font-style="italic" font-family="Liberation Serif">&#967;</tspan><tspan dy="-2">  [MeV/c</tspan><tspan font-size="6.5" dy="-3.5">2</tspan><tspan dy="3.5">]</tspan></text>
<text x="461.9" y="415.4" font-size="9.7" font-weight="bold" font-family="Liberation Mono" textLength="65.4" lengthAdjust="spacingAndGlyphs">m<tspan font-size="8" dy="2" font-style="italic" font-family="Liberation Serif">A'</tspan><tspan dy="-2">  [keV/c</tspan><tspan font-size="6.5" dy="-3.5">2</tspan><tspan dy="3.5">]</tspan></text>
<text x="108.2" y="631.9" font-size="9.7" font-weight="bold" font-family="Liberation Mono" textLength="62.8" lengthAdjust="spacingAndGlyphs">m<tspan font-size="8" dy="2" font-style="italic" font-family="Liberation Serif">&#967;</tspan><tspan dy="-2">  [MeV/c</tspan><tspan font-size="6.5" dy="-3.5">2</tspan><tspan dy="3.5">]</tspan></text>
<text x="459.7" y="633.6" font-size="9.7" font-weight="bold" font-family="Liberation Mono" textLength="62.9" lengthAdjust="spacingAndGlyphs">m<tspan font-size="8" dy="2" font-style="italic" font-family="Liberation Serif">&#957;</tspan><tspan dy="-2">  [keV/c</tspan><tspan font-size="6.5" dy="-3.5">2</tspan><tspan dy="3.5">]</tspan></text>
</svg></body></html>
